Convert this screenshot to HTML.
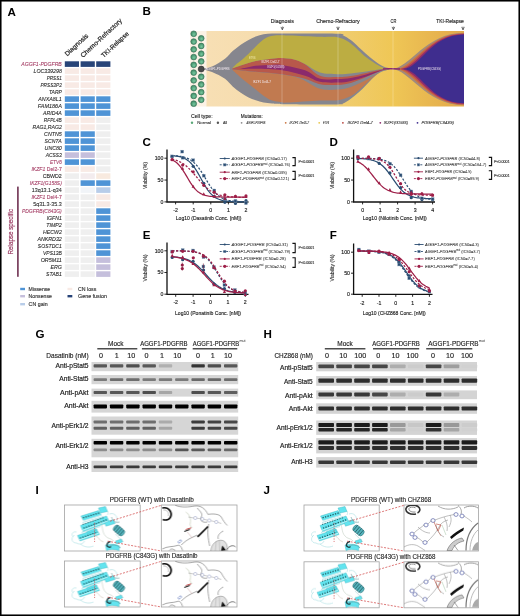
<!DOCTYPE html>
<html><head><meta charset="utf-8"><style>
html,body{margin:0;padding:0;background:#fff;width:520px;height:616px;overflow:hidden;}
svg{display:block;will-change:transform;}
text{font-family:"Liberation Sans",sans-serif;}
</style></head><body>
<svg width="520" height="616" viewBox="0 0 520 616">
<rect x="0" y="0" width="520" height="616" fill="#fff"/>
<text x="7.6" y="15.8" font-size="11.6" fill="#000" font-weight="bold">A</text>
<text x="142.6" y="15.4" font-size="11.6" fill="#000" font-weight="bold">B</text>
<text x="142.6" y="145.9" font-size="11.6" fill="#000" font-weight="bold">C</text>
<text x="329.6" y="145.9" font-size="11.6" fill="#000" font-weight="bold">D</text>
<text x="142.8" y="239.1" font-size="11.6" fill="#000" font-weight="bold">E</text>
<text x="329.8" y="238.8" font-size="11.6" fill="#000" font-weight="bold">F</text>
<text x="35.4" y="337.6" font-size="11.6" fill="#000" font-weight="bold">G</text>
<text x="263.6" y="337.6" font-size="11.6" fill="#000" font-weight="bold">H</text>
<text x="35.4" y="493.9" font-size="11.6" fill="#000" font-weight="bold">I</text>
<text x="263.4" y="493.9" font-size="11.6" fill="#000" font-weight="bold">J</text>
<g>
<rect x="64.8" y="61.3" width="14.2" height="5.6" fill="#284478"/>
<rect x="80.6" y="61.3" width="14.2" height="5.6" fill="#284478"/>
<rect x="96.2" y="61.3" width="14.2" height="5.6" fill="#284478"/>
<text x="21.3" y="66" font-size="5.4" fill="#a63f66" font-style="italic" textLength="40.5" lengthAdjust="spacingAndGlyphs" stroke="#a63f66" stroke-width="0.1">AGGF1-PDGFRB</text>
<rect x="64.8" y="68.3" width="14.2" height="5.6" fill="#f8eae5"/>
<rect x="80.6" y="68.3" width="14.2" height="5.6" fill="#f8eae5"/>
<rect x="96.2" y="68.3" width="14.2" height="5.6" fill="#f8eae5"/>
<text x="33.5" y="73" font-size="5.4" fill="#2a2a2a" font-style="italic" textLength="28.3" lengthAdjust="spacingAndGlyphs" stroke="#2a2a2a" stroke-width="0.1">LOC339298</text>
<rect x="64.8" y="75.3" width="14.2" height="5.6" fill="#f8eae5"/>
<rect x="80.6" y="75.3" width="14.2" height="5.6" fill="#f8eae5"/>
<rect x="96.2" y="75.3" width="14.2" height="5.6" fill="#f8eae5"/>
<text x="46.7" y="80" font-size="5.4" fill="#2a2a2a" font-style="italic" textLength="15.1" lengthAdjust="spacingAndGlyphs" stroke="#2a2a2a" stroke-width="0.1">PRSS1</text>
<rect x="64.8" y="82.3" width="14.2" height="5.6" fill="#f8eae5"/>
<rect x="80.6" y="82.3" width="14.2" height="5.6" fill="#f8eae5"/>
<rect x="96.2" y="82.3" width="14.2" height="5.6" fill="#f8eae5"/>
<text x="40.4" y="87" font-size="5.4" fill="#2a2a2a" font-style="italic" textLength="21.4" lengthAdjust="spacingAndGlyphs" stroke="#2a2a2a" stroke-width="0.1">PRSS3P2</text>
<rect x="64.8" y="89.3" width="14.2" height="5.6" fill="#f8eae5"/>
<rect x="80.6" y="89.3" width="14.2" height="5.6" fill="#f8eae5"/>
<rect x="96.2" y="89.3" width="14.2" height="5.6" fill="#f8eae5"/>
<text x="48.9" y="94" font-size="5.4" fill="#2a2a2a" font-style="italic" textLength="12.9" lengthAdjust="spacingAndGlyphs" stroke="#2a2a2a" stroke-width="0.1">TARP</text>
<rect x="64.8" y="96.3" width="14.2" height="5.6" fill="#4f94d6"/>
<rect x="80.6" y="96.3" width="14.2" height="5.6" fill="#4f94d6"/>
<rect x="96.2" y="96.3" width="14.2" height="5.6" fill="#4f94d6"/>
<text x="38.3" y="101" font-size="5.4" fill="#2a2a2a" font-style="italic" textLength="23.5" lengthAdjust="spacingAndGlyphs" stroke="#2a2a2a" stroke-width="0.1">ANXA8L1</text>
<rect x="64.8" y="103.3" width="14.2" height="5.6" fill="#4f94d6"/>
<rect x="80.6" y="103.3" width="14.2" height="5.6" fill="#4f94d6"/>
<rect x="96.2" y="103.3" width="14.2" height="5.6" fill="#4f94d6"/>
<text x="37.8" y="108" font-size="5.4" fill="#2a2a2a" font-style="italic" textLength="24" lengthAdjust="spacingAndGlyphs" stroke="#2a2a2a" stroke-width="0.1">FAM186A</text>
<rect x="64.8" y="110.3" width="14.2" height="5.6" fill="#4f94d6"/>
<rect x="80.6" y="110.3" width="14.2" height="5.6" fill="#4f94d6"/>
<rect x="96.2" y="110.3" width="14.2" height="5.6" fill="#4f94d6"/>
<text x="43" y="115" font-size="5.4" fill="#2a2a2a" font-style="italic" textLength="18.8" lengthAdjust="spacingAndGlyphs" stroke="#2a2a2a" stroke-width="0.1">ARID4A</text>
<rect x="64.8" y="117.3" width="14.2" height="5.6" fill="#f8eae5"/>
<rect x="80.6" y="117.3" width="14.2" height="5.6" fill="#f8eae5"/>
<rect x="96.2" y="117.3" width="14.2" height="5.6" fill="#efefef"/>
<text x="43.8" y="122" font-size="5.4" fill="#2a2a2a" font-style="italic" textLength="18" lengthAdjust="spacingAndGlyphs" stroke="#2a2a2a" stroke-width="0.1">RFPL4B</text>
<rect x="64.8" y="124.3" width="14.2" height="5.6" fill="#f8eae5"/>
<rect x="80.6" y="124.3" width="14.2" height="5.6" fill="#f8eae5"/>
<rect x="96.2" y="124.3" width="14.2" height="5.6" fill="#efefef"/>
<text x="32.5" y="129" font-size="5.4" fill="#2a2a2a" font-style="italic" textLength="29.3" lengthAdjust="spacingAndGlyphs" stroke="#2a2a2a" stroke-width="0.1">RAG1,RAG2</text>
<rect x="64.8" y="131.3" width="14.2" height="5.6" fill="#4f94d6"/>
<rect x="80.6" y="131.3" width="14.2" height="5.6" fill="#4f94d6"/>
<rect x="96.2" y="131.3" width="14.2" height="5.6" fill="#efefef"/>
<text x="44.1" y="136" font-size="5.4" fill="#2a2a2a" font-style="italic" textLength="17.7" lengthAdjust="spacingAndGlyphs" stroke="#2a2a2a" stroke-width="0.1">CNTN5</text>
<rect x="64.8" y="138.3" width="14.2" height="5.6" fill="#4f94d6"/>
<rect x="80.6" y="138.3" width="14.2" height="5.6" fill="#4f94d6"/>
<rect x="96.2" y="138.3" width="14.2" height="5.6" fill="#efefef"/>
<text x="44.6" y="143" font-size="5.4" fill="#2a2a2a" font-style="italic" textLength="17.2" lengthAdjust="spacingAndGlyphs" stroke="#2a2a2a" stroke-width="0.1">SCN7A</text>
<rect x="64.8" y="145.3" width="14.2" height="5.6" fill="#4f94d6"/>
<rect x="80.6" y="145.3" width="14.2" height="5.6" fill="#4f94d6"/>
<rect x="96.2" y="145.3" width="14.2" height="5.6" fill="#efefef"/>
<text x="44.6" y="150" font-size="5.4" fill="#2a2a2a" font-style="italic" textLength="17.2" lengthAdjust="spacingAndGlyphs" stroke="#2a2a2a" stroke-width="0.1">UNC80</text>
<rect x="64.8" y="152.3" width="14.2" height="5.6" fill="#c5bfdc"/>
<rect x="80.6" y="152.3" width="14.2" height="5.6" fill="#c5bfdc"/>
<rect x="96.2" y="152.3" width="14.2" height="5.6" fill="#efefef"/>
<text x="45.7" y="157" font-size="5.4" fill="#2a2a2a" font-style="italic" textLength="16.1" lengthAdjust="spacingAndGlyphs" stroke="#2a2a2a" stroke-width="0.1">ACSS3</text>
<rect x="64.8" y="159.3" width="14.2" height="5.6" fill="#4f94d6"/>
<rect x="80.6" y="159.3" width="14.2" height="5.6" fill="#4f94d6"/>
<rect x="96.2" y="159.3" width="14.2" height="5.6" fill="#efefef"/>
<text x="49.9" y="164" font-size="5.4" fill="#a63f66" font-style="italic" textLength="11.9" lengthAdjust="spacingAndGlyphs" stroke="#a63f66" stroke-width="0.1">ETV6</text>
<rect x="64.8" y="166.3" width="14.2" height="5.6" fill="#f8eae5"/>
<rect x="80.6" y="166.3" width="14.2" height="5.6" fill="#f8eae5"/>
<rect x="96.2" y="166.3" width="14.2" height="5.6" fill="#efefef"/>
<text x="31.4" y="171" font-size="5.4" fill="#a63f66" stroke="#a63f66" stroke-width="0.1" textLength="30.4" lengthAdjust="spacingAndGlyphs"><tspan font-style="italic">IKZF1</tspan> Del2-7</text>
<rect x="64.8" y="173.3" width="14.2" height="5.6" fill="#efefef"/>
<rect x="80.6" y="173.3" width="14.2" height="5.6" fill="#f3ecee"/>
<rect x="96.2" y="173.3" width="14.2" height="5.6" fill="#f8eadf"/>
<text x="42.7" y="178" font-size="5.4" fill="#2a2a2a" textLength="19.1" lengthAdjust="spacingAndGlyphs" stroke="#2a2a2a" stroke-width="0.1">CBWD2</text>
<rect x="64.8" y="180.3" width="14.2" height="5.6" fill="#efefef"/>
<rect x="80.6" y="180.3" width="14.2" height="5.6" fill="#4f94d6"/>
<rect x="96.2" y="180.3" width="14.2" height="5.6" fill="#4f94d6"/>
<text x="29.8" y="185" font-size="5.4" fill="#a63f66" font-style="italic" textLength="32" lengthAdjust="spacingAndGlyphs" stroke="#a63f66" stroke-width="0.1">IKZF1(G158S)</text>
<rect x="64.8" y="187.3" width="14.2" height="5.6" fill="#efefef"/>
<rect x="80.6" y="187.3" width="14.2" height="5.6" fill="#f1f4f8"/>
<rect x="96.2" y="187.3" width="14.2" height="5.6" fill="#b8cde9"/>
<text x="31.7" y="192" font-size="5.4" fill="#2a2a2a" textLength="30.1" lengthAdjust="spacingAndGlyphs" stroke="#2a2a2a" stroke-width="0.1">13q13.1-q34</text>
<rect x="64.8" y="194.3" width="14.2" height="5.6" fill="#efefef"/>
<rect x="80.6" y="194.3" width="14.2" height="5.6" fill="#efefef"/>
<rect x="96.2" y="194.3" width="14.2" height="5.6" fill="#f8eae5"/>
<text x="31.4" y="199" font-size="5.4" fill="#a63f66" stroke="#a63f66" stroke-width="0.1" textLength="30.4" lengthAdjust="spacingAndGlyphs"><tspan font-style="italic">IKZF1</tspan> Del4-7</text>
<rect x="64.8" y="201.3" width="14.2" height="5.6" fill="#efefef"/>
<rect x="80.6" y="201.3" width="14.2" height="5.6" fill="#efefef"/>
<rect x="96.2" y="201.3" width="14.2" height="5.6" fill="#f8eae5"/>
<text x="33.2" y="206" font-size="5.4" fill="#2a2a2a" textLength="28.6" lengthAdjust="spacingAndGlyphs" stroke="#2a2a2a" stroke-width="0.1">5q31.3-35.3</text>
<rect x="64.8" y="208.3" width="14.2" height="5.6" fill="#efefef"/>
<rect x="80.6" y="208.3" width="14.2" height="5.6" fill="#efefef"/>
<rect x="96.2" y="208.3" width="14.2" height="5.6" fill="#4f94d6"/>
<text x="21.9" y="213" font-size="5.4" fill="#a63f66" font-style="italic" textLength="39.9" lengthAdjust="spacingAndGlyphs" stroke="#a63f66" stroke-width="0.1">PDGFRB(C843G)</text>
<rect x="64.8" y="215.3" width="14.2" height="5.6" fill="#efefef"/>
<rect x="80.6" y="215.3" width="14.2" height="5.6" fill="#efefef"/>
<rect x="96.2" y="215.3" width="14.2" height="5.6" fill="#4f94d6"/>
<text x="46.7" y="220" font-size="5.4" fill="#2a2a2a" font-style="italic" textLength="15.1" lengthAdjust="spacingAndGlyphs" stroke="#2a2a2a" stroke-width="0.1">IGFN1</text>
<rect x="64.8" y="222.3" width="14.2" height="5.6" fill="#efefef"/>
<rect x="80.6" y="222.3" width="14.2" height="5.6" fill="#efefef"/>
<rect x="96.2" y="222.3" width="14.2" height="5.6" fill="#4f94d6"/>
<text x="46.2" y="227" font-size="5.4" fill="#2a2a2a" font-style="italic" textLength="15.6" lengthAdjust="spacingAndGlyphs" stroke="#2a2a2a" stroke-width="0.1">TIMP2</text>
<rect x="64.8" y="229.3" width="14.2" height="5.6" fill="#efefef"/>
<rect x="80.6" y="229.3" width="14.2" height="5.6" fill="#efefef"/>
<rect x="96.2" y="229.3" width="14.2" height="5.6" fill="#4f94d6"/>
<text x="43" y="234" font-size="5.4" fill="#2a2a2a" font-style="italic" textLength="18.8" lengthAdjust="spacingAndGlyphs" stroke="#2a2a2a" stroke-width="0.1">HECW2</text>
<rect x="64.8" y="236.3" width="14.2" height="5.6" fill="#efefef"/>
<rect x="80.6" y="236.3" width="14.2" height="5.6" fill="#efefef"/>
<rect x="96.2" y="236.3" width="14.2" height="5.6" fill="#4f94d6"/>
<text x="37.4" y="241" font-size="5.4" fill="#2a2a2a" font-style="italic" textLength="24.4" lengthAdjust="spacingAndGlyphs" stroke="#2a2a2a" stroke-width="0.1">ANKRD32</text>
<rect x="64.8" y="243.3" width="14.2" height="5.6" fill="#efefef"/>
<rect x="80.6" y="243.3" width="14.2" height="5.6" fill="#efefef"/>
<rect x="96.2" y="243.3" width="14.2" height="5.6" fill="#4f94d6"/>
<text x="37.8" y="248" font-size="5.4" fill="#2a2a2a" font-style="italic" textLength="24" lengthAdjust="spacingAndGlyphs" stroke="#2a2a2a" stroke-width="0.1">SOSTDC1</text>
<rect x="64.8" y="250.3" width="14.2" height="5.6" fill="#efefef"/>
<rect x="80.6" y="250.3" width="14.2" height="5.6" fill="#efefef"/>
<rect x="96.2" y="250.3" width="14.2" height="5.6" fill="#4f94d6"/>
<text x="43" y="255" font-size="5.4" fill="#2a2a2a" font-style="italic" textLength="18.8" lengthAdjust="spacingAndGlyphs" stroke="#2a2a2a" stroke-width="0.1">VPS13B</text>
<rect x="64.8" y="257.3" width="14.2" height="5.6" fill="#efefef"/>
<rect x="80.6" y="257.3" width="14.2" height="5.6" fill="#efefef"/>
<rect x="96.2" y="257.3" width="14.2" height="5.6" fill="#c5bfdc"/>
<text x="40.7" y="262" font-size="5.4" fill="#2a2a2a" font-style="italic" textLength="21.1" lengthAdjust="spacingAndGlyphs" stroke="#2a2a2a" stroke-width="0.1">OR5M11</text>
<rect x="64.8" y="264.3" width="14.2" height="5.6" fill="#efefef"/>
<rect x="80.6" y="264.3" width="14.2" height="5.6" fill="#efefef"/>
<rect x="96.2" y="264.3" width="14.2" height="5.6" fill="#c5bfdc"/>
<text x="50.5" y="269" font-size="5.4" fill="#2a2a2a" font-style="italic" textLength="11.3" lengthAdjust="spacingAndGlyphs" stroke="#2a2a2a" stroke-width="0.1">ERG</text>
<rect x="64.8" y="271.3" width="14.2" height="5.6" fill="#efefef"/>
<rect x="80.6" y="271.3" width="14.2" height="5.6" fill="#efefef"/>
<rect x="96.2" y="271.3" width="14.2" height="5.6" fill="#c5bfdc"/>
<text x="46" y="276" font-size="5.4" fill="#2a2a2a" font-style="italic" textLength="15.8" lengthAdjust="spacingAndGlyphs" stroke="#2a2a2a" stroke-width="0.1">STAB1</text>
</g>
<text x="67.2" y="56.5" font-size="6.6" fill="#222" stroke="#222" stroke-width="0.2" transform="rotate(-43 67.2 56.5)" textLength="29.5" lengthAdjust="spacingAndGlyphs">Diagnosis</text>
<text x="83" y="58" font-size="6.6" fill="#222" stroke="#222" stroke-width="0.2" transform="rotate(-43 83 58)" textLength="54" lengthAdjust="spacingAndGlyphs">Chemo-Refractory</text>
<text x="103.8" y="58" font-size="6.6" fill="#222" stroke="#222" stroke-width="0.2" transform="rotate(-43 103.8 58)" textLength="34.8" lengthAdjust="spacingAndGlyphs">TKI-Relapse</text>
<rect x="17.1" y="186.6" width="1.6" height="90.2" fill="#6f3152"/>
<text x="13" y="231.7" font-size="8" fill="#9a3a62" stroke="#9a3a62" stroke-width="0.2" text-anchor="middle" transform="rotate(-90 13 231.7)" textLength="45.6" lengthAdjust="spacingAndGlyphs">Relapse specific</text>
<rect x="20.2" y="287.8" width="4.8" height="2.4" fill="#4f94d6"/>
<text x="28.6" y="290.9" font-size="5.6" fill="#333" textLength="21.6" lengthAdjust="spacingAndGlyphs" stroke="#333" stroke-width="0.15">Missense</text>
<rect x="20.2" y="295" width="4.8" height="2.4" fill="#c5bfdc"/>
<text x="28.6" y="298.1" font-size="5.6" fill="#333" textLength="23.3" lengthAdjust="spacingAndGlyphs" stroke="#333" stroke-width="0.15">Nonsense</text>
<rect x="20.2" y="303" width="4.8" height="2.4" fill="#b8cde9"/>
<text x="28.6" y="306.1" font-size="5.6" fill="#333" textLength="19.1" lengthAdjust="spacingAndGlyphs" stroke="#333" stroke-width="0.15">CN gain</text>
<rect x="67.5" y="287.8" width="4.8" height="2.4" fill="#f8eae5"/>
<text x="78.1" y="290.9" font-size="5.6" fill="#333" textLength="18.2" lengthAdjust="spacingAndGlyphs" stroke="#333" stroke-width="0.15">CN loss</text>
<rect x="67.5" y="295" width="4.8" height="2.4" fill="#284478"/>
<text x="78.1" y="298.1" font-size="5.6" fill="#333" textLength="28.8" lengthAdjust="spacingAndGlyphs" stroke="#333" stroke-width="0.15">Gene fusion</text>
<defs><linearGradient id="fishbg" x1="0" x2="1" y1="0" y2="0"><stop offset="0" stop-color="#f7dfb4"/><stop offset="0.25" stop-color="#f6dcac"/><stop offset="0.55" stop-color="#f0cc6c"/><stop offset="0.72" stop-color="#efc756"/><stop offset="1" stop-color="#e2a84a"/></linearGradient><radialGradient id="cellg" cx="0.55" cy="0.6" r="0.6"><stop offset="0" stop-color="#77c79e"/><stop offset="1" stop-color="#3d8862"/></radialGradient></defs>
<rect x="190" y="31" width="17" height="75.5" fill="#fcf2e6"/><rect x="206.5" y="31" width="257.5" height="75.5" fill="url(#fishbg)"/>
<path d="M201,69 C202.83,68.58 208,68.2 212,66.5 C216,64.8 221.55,61.37 225,58.8 C228.45,56.23 230.13,53.42 232.7,51.1 C235.27,48.78 237.83,46.7 240.4,44.9 C242.97,43.1 245.53,41.7 248.1,40.3 C250.67,38.9 253.23,37.52 255.8,36.5 C258.37,35.48 260.8,34.72 263.5,34.2 C266.2,33.68 268.92,33.5 272,33.4 C275.08,33.3 271,33.53 282,33.6 C293,33.67 327.83,33.52 338,33.8 C348.17,34.08 340.87,34.25 343,35.3 C345.13,36.35 348.22,38.15 350.8,40.1 C353.38,42.05 355.93,44.68 358.5,47 C361.07,49.32 363.65,51.8 366.2,54 C368.75,56.2 371.25,58.27 373.8,60.2 C376.35,62.13 379.43,64.37 381.5,65.6 C383.57,66.83 384.62,67.15 386.2,67.6 C387.78,68.05 389.53,68.13 391,68.3 C392.47,68.47 394.33,68.55 395,68.6 L395,69 C394.03,69.07 391.45,68.93 389.2,69.4 C386.95,69.87 384.07,70.5 381.5,71.8 C378.93,73.1 376.35,75.02 373.8,77.2 C371.25,79.38 368.75,82.33 366.2,84.9 C363.65,87.47 361.07,90.28 358.5,92.6 C355.93,94.92 353.38,96.97 350.8,98.8 C348.22,100.63 345.13,102.67 343,103.6 C340.87,104.53 348.17,104.3 338,104.4 C327.83,104.5 293,104.33 282,104.2 C271,104.07 275.08,103.87 272,103.6 C268.92,103.33 266.2,103.15 263.5,102.6 C260.8,102.05 258.37,101.2 255.8,100.3 C253.23,99.4 250.67,98.48 248.1,97.2 C245.53,95.92 242.97,94.38 240.4,92.6 C237.83,90.82 235.27,88.8 232.7,86.5 C230.13,84.2 228.45,81.22 225,78.8 C221.55,76.38 216,73.63 212,72 C208,70.37 202.83,69.5 201,69 Z" fill="#86868e"/>
<path d="M232,69.4 C235.97,69.83 247.47,71.17 255.8,72 C264.13,72.83 274.63,73.32 282,74.4 C289.37,75.48 293.67,76.1 300,78.5 C306.33,80.9 313.67,86.97 320,88.8 C326.33,90.63 332.87,89.8 338,89.5 C343.13,89.2 346.1,88.58 350.8,87 C355.5,85.42 361.08,82.58 366.2,80 C371.32,77.42 377.53,73.3 381.5,71.5 C385.47,69.7 388.58,69.58 390,69.2 L390,69.3 C388.58,69.67 384.2,70.3 381.5,71.5 C378.8,72.7 376.35,74.5 373.8,76.5 C371.25,78.5 368.75,81.17 366.2,83.5 C363.65,85.83 361.07,88.42 358.5,90.5 C355.93,92.58 354.22,94.37 350.8,96 C347.38,97.63 343.13,99.55 338,100.3 C332.87,101.05 328.58,100.12 320,100.5 C311.42,100.88 293.37,102.38 286.5,102.6 C279.63,102.82 281.35,102.18 278.8,101.8 C276.25,101.42 273.75,101.32 271.2,100.3 C268.65,99.28 266.07,97.5 263.5,95.7 C260.93,93.9 258.37,91.55 255.8,89.5 C253.23,87.45 250.67,85.45 248.1,83.4 C245.53,81.35 243.08,79.5 240.4,77.2 C237.72,74.9 233.4,70.87 232,69.6 Z" fill="#c17a50"/>
<path d="M232,68.8 C233.4,68.28 236.43,66.98 240.4,65.7 C244.37,64.42 250.67,62.25 255.8,61.1 C260.93,59.95 266.83,59.3 271.2,58.8 C275.57,58.3 278.2,57.97 282,58.1 C285.8,58.23 290.17,58.58 294,59.6 C297.83,60.62 300.67,61.52 305,64.2 C309.33,66.88 314.5,73.57 320,75.7 C325.5,77.83 332.87,76.95 338,77 C343.13,77.05 346.1,76.67 350.8,76 C355.5,75.33 361.08,74.08 366.2,73 C371.32,71.92 377.53,70.18 381.5,69.5 C385.47,68.82 388.58,69 390,68.9 L390,69 C388.58,69.25 385.47,69.17 381.5,70.5 C377.53,71.83 371.32,74.92 366.2,77 C361.08,79.08 355.5,81.68 350.8,83 C346.1,84.32 343.13,84.7 338,84.9 C332.87,85.1 325.5,85.22 320,84.2 C314.5,83.18 311.33,80.47 305,78.8 C298.67,77.13 290.2,75.37 282,74.2 C273.8,73.03 264.13,72.63 255.8,71.8 C247.47,70.97 235.97,69.63 232,69.2 Z" fill="#b8584b"/>
<path d="M240,68.9 C242.63,68.37 250.63,66.37 255.8,65.7 C260.97,65.03 266.63,65.03 271,64.9 C275.37,64.77 276.33,64 282,64.9 C287.67,65.8 298.67,67.98 305,70.3 C311.33,72.62 314.5,77.35 320,78.8 C325.5,80.25 332.87,79.13 338,79 C343.13,78.87 346.1,78.75 350.8,78 C355.5,77.25 361.08,75.83 366.2,74.5 C371.32,73.17 377.53,70.92 381.5,70 C385.47,69.08 388.58,69.17 390,69 L390,69.1 C388.58,69.33 385.47,69.27 381.5,70.5 C377.53,71.73 371.32,74.75 366.2,76.5 C361.08,78.25 355.5,79.98 350.8,81 C346.1,82.02 343.13,82.47 338,82.6 C332.87,82.73 325.5,82.95 320,81.8 C314.5,80.65 311.33,77.62 305,75.7 C298.67,73.78 290.2,71.45 282,70.3 C273.8,69.15 262.8,69 255.8,68.8 C248.8,68.6 242.63,69.05 240,69.1 Z" fill="#8b2a6c"/>
<path d="M232,68.4 C232.67,67.75 234.6,65.72 236,64.5 C237.4,63.28 238.38,62.82 240.4,61.1 C242.42,59.38 245.53,56.63 248.1,54.2 C250.67,51.77 253.23,48.95 255.8,46.5 C258.37,44.05 260.93,41.25 263.5,39.5 C266.07,37.75 268.65,36.72 271.2,36 C273.75,35.28 275.67,35.28 278.8,35.2 C281.93,35.12 283.13,35.23 290,35.5 C296.87,35.77 311.92,36.48 320,36.8 C328.08,37.12 333.37,36.3 338.5,37.4 C343.63,38.5 346.18,40.1 350.8,43.4 C355.42,46.7 361.08,53.27 366.2,57.2 C371.32,61.13 377.87,65.12 381.5,67 C385.13,68.88 386.92,68.25 388,68.5 L388,68.6 C386.92,68.67 385.13,68.52 381.5,69 C377.87,69.48 371.32,70.75 366.2,71.5 C361.08,72.25 355.5,73.05 350.8,73.5 C346.1,73.95 343.13,74.35 338,74.2 C332.87,74.05 325.5,74.3 320,72.6 C314.5,70.9 309.33,66.2 305,64 C300.67,61.8 297.83,60.42 294,59.4 C290.17,58.38 285.8,58.02 282,57.9 C278.2,57.78 275.57,58.18 271.2,58.7 C266.83,59.22 260.93,59.85 255.8,61 C250.67,62.15 244.37,64.33 240.4,65.6 C236.43,66.87 233.4,68.1 232,68.6 Z" fill="#bcad42"/>
<path d="M391,69 C410,69 425,32.8 464,32.8 L464,105.2 C425,105.2 410,69 391,69 Z" fill="#a08a7e"/>
<path d="M395,69 C413,69 427,33.2 464,33.2 L464,104.8 C427,104.8 413,69 395,69 Z" fill="#c9743f"/>
<path d="M398,69 C415,69 428,33.6 464,33.6 L464,104.3 C428,104.3 415,69 398,69 Z" fill="#c0504c"/>
<path d="M400.5,69 C417,69 429,34 464,34 L464,103.8 C429,103.8 417,69 400.5,69 Z" fill="#8e2c6c"/>
<path d="M403,69 C420,69 430,34.5 464,34.5 L464,103.2 C430,103.2 420,69 403,69 Z" fill="#3f2d8e"/>
<path d="M383,68.8 C388,68.6 392,68.6 400,69" stroke="#8b2a6c" stroke-width="1.3" fill="none"/>
<rect x="281.65" y="31" width="0.7" height="75.5" fill="#fff" opacity="0.35"/>
<rect x="337.65" y="31" width="0.7" height="75.5" fill="#fff" opacity="0.35"/>
<rect x="392.65" y="31" width="0.7" height="75.5" fill="#fff" opacity="0.35"/>
<circle cx="193.7" cy="33.8" r="2.9" fill="url(#cellg)" stroke="#336a50" stroke-width="0.6"/>
<circle cx="193.7" cy="41.56" r="2.9" fill="url(#cellg)" stroke="#336a50" stroke-width="0.6"/>
<circle cx="193.7" cy="49.32" r="2.9" fill="url(#cellg)" stroke="#336a50" stroke-width="0.6"/>
<circle cx="193.7" cy="57.08" r="2.9" fill="url(#cellg)" stroke="#336a50" stroke-width="0.6"/>
<circle cx="193.7" cy="64.84" r="2.9" fill="url(#cellg)" stroke="#336a50" stroke-width="0.6"/>
<circle cx="193.7" cy="72.6" r="2.9" fill="url(#cellg)" stroke="#336a50" stroke-width="0.6"/>
<circle cx="193.7" cy="80.36" r="2.9" fill="url(#cellg)" stroke="#336a50" stroke-width="0.6"/>
<circle cx="193.7" cy="88.12" r="2.9" fill="url(#cellg)" stroke="#336a50" stroke-width="0.6"/>
<circle cx="193.7" cy="95.88" r="2.9" fill="url(#cellg)" stroke="#336a50" stroke-width="0.6"/>
<circle cx="193.7" cy="103.64" r="2.9" fill="url(#cellg)" stroke="#336a50" stroke-width="0.6"/>
<circle cx="201.2" cy="38.3" r="2.9" fill="url(#cellg)" stroke="#336a50" stroke-width="0.6"/>
<circle cx="201.2" cy="45.99" r="2.9" fill="url(#cellg)" stroke="#336a50" stroke-width="0.6"/>
<circle cx="201.2" cy="53.68" r="2.9" fill="url(#cellg)" stroke="#336a50" stroke-width="0.6"/>
<circle cx="201.2" cy="61.37" r="2.9" fill="url(#cellg)" stroke="#336a50" stroke-width="0.6"/>
<circle cx="201.2" cy="69.06" r="3" fill="#4a4a4a" stroke="#2e2e2e" stroke-width="0.6"/>
<circle cx="201.2" cy="76.75" r="2.9" fill="url(#cellg)" stroke="#336a50" stroke-width="0.6"/>
<circle cx="201.2" cy="84.44" r="2.9" fill="url(#cellg)" stroke="#336a50" stroke-width="0.6"/>
<circle cx="201.2" cy="92.13" r="2.9" fill="url(#cellg)" stroke="#336a50" stroke-width="0.6"/>
<circle cx="201.2" cy="99.82" r="2.9" fill="url(#cellg)" stroke="#336a50" stroke-width="0.6"/>
<text x="205.5" y="70.3" font-size="2.6" fill="#f3e9f0" textLength="24" lengthAdjust="spacingAndGlyphs">AGGF1-PDGFRB</text>
<text x="249" y="58.8" font-size="2.6" fill="#f4ecb0" textLength="6.5" lengthAdjust="spacingAndGlyphs">ETV6</text>
<text x="261.5" y="63.4" font-size="2.6" fill="#f3e9f0" textLength="18" lengthAdjust="spacingAndGlyphs">IKZF1 Del2-7</text>
<text x="267.5" y="68" font-size="2.6" fill="#f3e9f0" textLength="17" lengthAdjust="spacingAndGlyphs">IKZF1(G158S)</text>
<text x="253" y="83.4" font-size="2.6" fill="#f3e9f0" textLength="18" lengthAdjust="spacingAndGlyphs">IKZF1 Del4-7</text>
<text x="418" y="70" font-size="2.6" fill="#f3e9f0" textLength="23" lengthAdjust="spacingAndGlyphs">PDGFRB(C843G)</text>
<text x="282.3" y="23.3" font-size="6" fill="#222" stroke="#222" stroke-width="0.15" text-anchor="middle" textLength="23" lengthAdjust="spacingAndGlyphs">Diagnosis</text>
<text x="338" y="23.3" font-size="6" fill="#222" stroke="#222" stroke-width="0.15" text-anchor="middle" textLength="43.5" lengthAdjust="spacingAndGlyphs">Chemo-Refractory</text>
<text x="393.4" y="23.3" font-size="6" fill="#222" stroke="#222" stroke-width="0.15" text-anchor="middle" textLength="5.8" lengthAdjust="spacingAndGlyphs">CR</text>
<text x="450" y="23.3" font-size="6" fill="#222" stroke="#222" stroke-width="0.15" text-anchor="middle" textLength="27.5" lengthAdjust="spacingAndGlyphs">TKI-Relapse</text>
<path d="M281,26.9 L282.3,29.8 L283.6,26.9" fill="none" stroke="#333" stroke-width="0.7"/>
<rect x="282" y="26.5" width="0.6" height="3.5" fill="#555"/>
<path d="M336.7,26.9 L338,29.8 L339.3,26.9" fill="none" stroke="#333" stroke-width="0.7"/>
<rect x="337.7" y="26.5" width="0.6" height="3.5" fill="#555"/>
<path d="M392.1,26.9 L393.4,29.8 L394.7,26.9" fill="none" stroke="#333" stroke-width="0.7"/>
<rect x="393.1" y="26.5" width="0.6" height="3.5" fill="#555"/>
<path d="M461.7,26.9 L463,29.8 L464.3,26.9" fill="none" stroke="#333" stroke-width="0.7"/>
<rect x="462.7" y="26.5" width="0.6" height="3.5" fill="#555"/>
<text x="190.9" y="118.2" font-size="4.8" fill="#222" stroke="#222" stroke-width="0.12" textLength="21.8" lengthAdjust="spacingAndGlyphs">Cell type:</text>
<text x="240.8" y="118.2" font-size="4.8" fill="#222" stroke="#222" stroke-width="0.12" textLength="22" lengthAdjust="spacingAndGlyphs">Mutations:</text>
<circle cx="192" cy="122.8" r="1.2" fill="#5aa878"/>
<text x="197.2" y="124.3" font-size="4" fill="#333" stroke="#333" stroke-width="0.1" textLength="14" lengthAdjust="spacingAndGlyphs">Normal</text>
<circle cx="217.9" cy="122.8" r="1.2" fill="#555"/>
<text x="223" y="124.3" font-size="4" fill="#333" stroke="#333" stroke-width="0.1" textLength="4.2" lengthAdjust="spacingAndGlyphs">All</text>
<circle cx="241.6" cy="122.8" r="0.9" fill="#8a898c"/>
<text x="246.5" y="124.2" font-size="4" fill="#333" stroke="#333" stroke-width="0.1" font-style="italic" textLength="18.9" lengthAdjust="spacingAndGlyphs">AGGF1-PDGFRB</text>
<circle cx="285.7" cy="122.8" r="0.9" fill="#c9743f"/>
<text x="289.6" y="124.2" font-size="4" fill="#333" stroke="#333" stroke-width="0.1" font-style="italic" textLength="19.6" lengthAdjust="spacingAndGlyphs">IKZF1 Del2-7</text>
<circle cx="319.2" cy="122.8" r="0.9" fill="#e8c64a"/>
<text x="323" y="124.2" font-size="4" fill="#333" stroke="#333" stroke-width="0.1" font-style="italic" textLength="6" lengthAdjust="spacingAndGlyphs">ETV6</text>
<circle cx="342.9" cy="122.8" r="0.9" fill="#b8423c"/>
<text x="347.5" y="124.2" font-size="4" fill="#333" stroke="#333" stroke-width="0.1" font-style="italic" textLength="25.5" lengthAdjust="spacingAndGlyphs">IKZF1 Del4-7</text>
<circle cx="380.3" cy="122.8" r="0.9" fill="#8b2a6c"/>
<text x="383.8" y="124.2" font-size="4" fill="#333" stroke="#333" stroke-width="0.1" font-style="italic" textLength="24.2" lengthAdjust="spacingAndGlyphs">IKZF1(G158S)</text>
<circle cx="417.5" cy="122.8" r="0.9" fill="#3f2d8e"/>
<text x="421.5" y="124.2" font-size="4" fill="#333" stroke="#333" stroke-width="0.1" font-style="italic" textLength="32.4" lengthAdjust="spacingAndGlyphs">PDGFRB(C843G)</text>
<path d="M167,149.4 L167,202 L248.5,202" fill="none" stroke="#111" stroke-width="1.3"/>
<path d="M164.4,158.2 L167,158.2" stroke="#111" stroke-width="0.9"/>
<text x="163.4" y="160" font-size="5.2" fill="#222" stroke="#222" stroke-width="0.15" text-anchor="end">100</text>
<path d="M164.4,180.05 L167,180.05" stroke="#111" stroke-width="0.9"/>
<text x="163.4" y="181.85" font-size="5.2" fill="#222" stroke="#222" stroke-width="0.15" text-anchor="end">50</text>
<path d="M164.4,201.9 L167,201.9" stroke="#111" stroke-width="0.9"/>
<text x="163.4" y="203.7" font-size="5.2" fill="#222" stroke="#222" stroke-width="0.15" text-anchor="end">0</text>
<path d="M175.6,202 L175.6,204.4" stroke="#111" stroke-width="0.9"/>
<text x="175.6" y="212" font-size="5.2" fill="#222" stroke="#222" stroke-width="0.15" text-anchor="middle">-2</text>
<path d="M193.2,202 L193.2,204.4" stroke="#111" stroke-width="0.9"/>
<text x="193.2" y="212" font-size="5.2" fill="#222" stroke="#222" stroke-width="0.15" text-anchor="middle">-1</text>
<path d="M210.8,202 L210.8,204.4" stroke="#111" stroke-width="0.9"/>
<text x="210.8" y="212" font-size="5.2" fill="#222" stroke="#222" stroke-width="0.15" text-anchor="middle">0</text>
<path d="M228.4,202 L228.4,204.4" stroke="#111" stroke-width="0.9"/>
<text x="228.4" y="212" font-size="5.2" fill="#222" stroke="#222" stroke-width="0.15" text-anchor="middle">1</text>
<path d="M246,202 L246,204.4" stroke="#111" stroke-width="0.9"/>
<text x="246" y="212" font-size="5.2" fill="#222" stroke="#222" stroke-width="0.15" text-anchor="middle">2</text>
<text x="208.6" y="219.7" font-size="5.8" fill="#222" stroke="#222" stroke-width="0.15" text-anchor="middle" textLength="65.6" lengthAdjust="spacingAndGlyphs">Log10 (Dasatinib Conc. [nM])</text>
<text x="147.3" y="175.5" font-size="5.5" fill="#333" stroke="#333" stroke-width="0.12" text-anchor="middle" transform="rotate(-90 147.3 175.5)" textLength="27" lengthAdjust="spacingAndGlyphs">Viability (%)</text>
<path d="M172.08,155.64 L173.31,155.74 L174.54,155.87 L175.78,156.02 L177.01,156.21 L178.24,156.43 L179.47,156.69 L180.7,157.01 L181.94,157.39 L183.17,157.84 L184.4,158.38 L185.63,159.02 L186.86,159.76 L188.1,160.63 L189.33,161.64 L190.56,162.8 L191.79,164.12 L193.02,165.61 L194.26,167.26 L195.49,169.08 L196.72,171.04 L197.95,173.13 L199.18,175.31 L200.42,177.55 L201.65,179.81 L202.88,182.05 L204.11,184.22 L205.34,186.29 L206.58,188.23 L207.81,190.03 L209.04,191.66 L210.27,193.12 L211.5,194.42 L212.74,195.55 L213.97,196.54 L215.2,197.39 L216.43,198.12 L217.66,198.74 L218.9,199.27 L220.13,199.71 L221.36,200.08 L222.59,200.39 L223.82,200.65 L225.06,200.86 L226.29,201.04 L227.52,201.19 L228.75,201.31 L229.98,201.42 L231.22,201.5 L232.45,201.57 L233.68,201.63 L234.91,201.68 L236.14,201.71 L237.38,201.75 L238.61,201.77 L239.84,201.8 L241.07,201.81 L242.3,201.83 L243.54,201.84 L244.77,201.85 L246,201.86" fill="none" stroke="#2b4d72" stroke-width="1.25"/>
<circle cx="172.08" cy="156.56" r="1.6" fill="#2b4d72"/>
<circle cx="182.64" cy="157.49" r="1.6" fill="#2b4d72"/>
<circle cx="193.2" cy="166.29" r="1.6" fill="#2b4d72"/>
<circle cx="203.76" cy="183.24" r="1.6" fill="#2b4d72"/>
<circle cx="214.32" cy="196.36" r="1.6" fill="#2b4d72"/>
<circle cx="224.88" cy="202.35" r="1.6" fill="#2b4d72"/>
<circle cx="235.44" cy="203.39" r="1.6" fill="#2b4d72"/>
<circle cx="246" cy="200.68" r="1.6" fill="#2b4d72"/>
<path d="M172.08,155.52 L173.31,155.59 L174.54,155.68 L175.78,155.78 L177.01,155.9 L178.24,156.05 L179.47,156.22 L180.7,156.42 L181.94,156.66 L183.17,156.94 L184.4,157.28 L185.63,157.67 L186.86,158.13 L188.1,158.66 L189.33,159.29 L190.56,160.01 L191.79,160.84 L193.02,161.78 L194.26,162.86 L195.49,164.07 L196.72,165.42 L197.95,166.91 L199.18,168.54 L200.42,170.3 L201.65,172.17 L202.88,174.13 L204.11,176.16 L205.34,178.22 L206.58,180.29 L207.81,182.34 L209.04,184.32 L210.27,186.22 L211.5,188.01 L212.74,189.68 L213.97,191.21 L215.2,192.6 L216.43,193.85 L217.66,194.96 L218.9,195.95 L220.13,196.81 L221.36,197.56 L222.59,198.21 L223.82,198.77 L225.06,199.25 L226.29,199.66 L227.52,200.01 L228.75,200.3 L229.98,200.56 L231.22,200.77 L232.45,200.95 L233.68,201.1 L234.91,201.23 L236.14,201.34 L237.38,201.43 L238.61,201.5 L239.84,201.57 L241.07,201.62 L242.3,201.67 L243.54,201.7 L244.77,201.74 L246,201.76" fill="none" stroke="#2b4d72" stroke-width="1.25" stroke-dasharray="2.2,1.6"/>
<rect x="170.64" y="154.92" width="2.88" height="2.88" fill="#2b4d72" stroke="#8aa0b8" stroke-width="0.4"/>
<rect x="181.2" y="156.3" width="2.88" height="2.88" fill="#2b4d72" stroke="#8aa0b8" stroke-width="0.4"/>
<rect x="191.76" y="158.76" width="2.88" height="2.88" fill="#2b4d72" stroke="#8aa0b8" stroke-width="0.4"/>
<rect x="202.32" y="174.24" width="2.88" height="2.88" fill="#2b4d72" stroke="#8aa0b8" stroke-width="0.4"/>
<rect x="212.88" y="189" width="2.88" height="2.88" fill="#2b4d72" stroke="#8aa0b8" stroke-width="0.4"/>
<rect x="223.44" y="197.83" width="2.88" height="2.88" fill="#2b4d72" stroke="#8aa0b8" stroke-width="0.4"/>
<rect x="234" y="199.35" width="2.88" height="2.88" fill="#2b4d72" stroke="#8aa0b8" stroke-width="0.4"/>
<rect x="244.56" y="201.54" width="2.88" height="2.88" fill="#2b4d72" stroke="#8aa0b8" stroke-width="0.4"/>
<path d="M172.08,159.82 L173.31,160.44 L174.54,161.18 L175.78,162.05 L177.01,163.07 L178.24,164.24 L179.47,165.59 L180.7,167.1 L181.94,168.78 L183.17,170.6 L184.4,172.55 L185.63,174.6 L186.86,176.69 L188.1,178.79 L189.33,180.85 L190.56,182.83 L191.79,184.7 L193.02,186.42 L194.26,187.98 L195.49,189.37 L196.72,190.6 L197.95,191.66 L199.18,192.57 L200.42,193.35 L201.65,194 L202.88,194.55 L204.11,195 L205.34,195.38 L206.58,195.69 L207.81,195.95 L209.04,196.16 L210.27,196.33 L211.5,196.48 L212.74,196.59 L213.97,196.68 L215.2,196.76 L216.43,196.82 L217.66,196.87 L218.9,196.92 L220.13,196.95 L221.36,196.98 L222.59,197 L223.82,197.02 L225.06,197.03 L226.29,197.04 L227.52,197.05 L228.75,197.06 L229.98,197.07 L231.22,197.07 L232.45,197.08 L233.68,197.08 L234.91,197.08 L236.14,197.08 L237.38,197.09 L238.61,197.09 L239.84,197.09 L241.07,197.09 L242.3,197.09 L243.54,197.09 L244.77,197.09 L246,197.09" fill="none" stroke="#9e1f48" stroke-width="1.25"/>
<path d="M172.08,157.58 L173.68,160.62 L170.48,160.62 Z" fill="#9e1f48"/>
<path d="M182.64,166.76 L184.24,169.8 L181.04,169.8 Z" fill="#9e1f48"/>
<path d="M193.2,184.81 L194.8,187.85 L191.6,187.85 Z" fill="#9e1f48"/>
<path d="M203.76,192.28 L205.36,195.32 L202.16,195.32 Z" fill="#9e1f48"/>
<path d="M214.32,194.35 L215.92,197.39 L212.72,197.39 Z" fill="#9e1f48"/>
<path d="M224.88,196.79 L226.48,199.83 L223.28,199.83 Z" fill="#9e1f48"/>
<path d="M235.44,194.42 L237.04,197.46 L233.84,197.46 Z" fill="#9e1f48"/>
<path d="M246,195.01 L247.6,198.05 L244.4,198.05 Z" fill="#9e1f48"/>
<path d="M172.08,159.01 L173.31,159.32 L174.54,159.67 L175.78,160.07 L177.01,160.52 L178.24,161.03 L179.47,161.6 L180.7,162.24 L181.94,162.95 L183.17,163.74 L184.4,164.61 L185.63,165.55 L186.86,166.58 L188.1,167.7 L189.33,168.89 L190.56,170.15 L191.79,171.47 L193.02,172.86 L194.26,174.28 L195.49,175.74 L196.72,177.21 L197.95,178.68 L199.18,180.14 L200.42,181.56 L201.65,182.94 L202.88,184.27 L204.11,185.53 L205.34,186.72 L206.58,187.83 L207.81,188.86 L209.04,189.81 L210.27,190.68 L211.5,191.47 L212.74,192.18 L213.97,192.82 L215.2,193.39 L216.43,193.9 L217.66,194.35 L218.9,194.75 L220.13,195.1 L221.36,195.41 L222.59,195.69 L223.82,195.93 L225.06,196.13 L226.29,196.32 L227.52,196.48 L228.75,196.62 L229.98,196.74 L231.22,196.84 L232.45,196.93 L233.68,197.01 L234.91,197.08 L236.14,197.14 L237.38,197.19 L238.61,197.24 L239.84,197.28 L241.07,197.31 L242.3,197.34 L243.54,197.37 L244.77,197.39 L246,197.41" fill="none" stroke="#9e1f48" stroke-width="1.25" stroke-dasharray="2.2,1.6"/>
<circle cx="172.08" cy="159.7" r="1.6" fill="#9e1f48"/>
<circle cx="182.64" cy="165.03" r="1.6" fill="#9e1f48"/>
<circle cx="193.2" cy="171.78" r="1.6" fill="#9e1f48"/>
<circle cx="203.76" cy="185.28" r="1.6" fill="#9e1f48"/>
<circle cx="214.32" cy="192.22" r="1.6" fill="#9e1f48"/>
<circle cx="224.88" cy="194.78" r="1.6" fill="#9e1f48"/>
<circle cx="235.44" cy="196.36" r="1.6" fill="#9e1f48"/>
<circle cx="246" cy="195.94" r="1.6" fill="#9e1f48"/>
<path d="M219.7,158.5 L229.8,158.5" stroke="#2b4d72" stroke-width="0.9"/>
<circle cx="224.75" cy="158.5" r="1.1" fill="#2b4d72"/>
<text x="231.5" y="160" font-size="4.4" fill="#333" stroke="#333" stroke-width="0.05" textLength="55.4" lengthAdjust="spacingAndGlyphs"><tspan font-style="italic">AGGF1-PDGFRB</tspan> (IC50=0.17)</text>
<path d="M219.7,164.8 L229.8,164.8" stroke="#2b4d72" stroke-width="0.9" stroke-dasharray="2,1.2"/>
<rect x="223.49" y="163.54" width="2.52" height="2.52" fill="#2b4d72" stroke="#8aa0b8" stroke-width="0.4"/>
<text x="231.5" y="166.3" font-size="4.4" fill="#333" stroke="#333" stroke-width="0.05" textLength="58.6" lengthAdjust="spacingAndGlyphs"><tspan font-style="italic">AGGF1-PDGFRB</tspan><tspan font-size="2.6" dy="-1.6">mut</tspan><tspan dy="1.6"> </tspan>(IC50=0.76)</text>
<path d="M219.7,172.2 L229.8,172.2" stroke="#9e1f48" stroke-width="0.9"/>
<circle cx="224.75" cy="172.2" r="1.1" fill="#9e1f48"/>
<text x="231.5" y="173.7" font-size="4.4" fill="#333" stroke="#333" stroke-width="0.05" textLength="55.4" lengthAdjust="spacingAndGlyphs"><tspan font-style="italic">EBF1-PDGFRB</tspan> (IC50=0.035)</text>
<path d="M219.7,178.6 L229.8,178.6" stroke="#9e1f48" stroke-width="0.9" stroke-dasharray="2,1.2"/>
<circle cx="224.75" cy="178.6" r="1.6" fill="#9e1f48"/>
<text x="231.5" y="180.1" font-size="4.4" fill="#333" stroke="#333" stroke-width="0.05" textLength="57.5" lengthAdjust="spacingAndGlyphs"><tspan font-style="italic">EBF1-PDGFRB</tspan><tspan font-size="2.6" dy="-1.6">mut</tspan><tspan dy="1.6"> </tspan>(IC50=0.121)</text>
<path d="M292.4,157.6 L295.2,157.6 L295.2,165.6 L292.4,165.6" fill="none" stroke="#111" stroke-width="1.1"/>
<text x="298.6" y="163" font-size="4.3" fill="#222" stroke="#222" stroke-width="0.12" textLength="15.8" lengthAdjust="spacingAndGlyphs">P&lt;0.0001</text>
<path d="M292.4,171.4 L295.2,171.4 L295.2,179.4 L292.4,179.4" fill="none" stroke="#111" stroke-width="1.1"/>
<text x="298.6" y="176.8" font-size="4.3" fill="#222" stroke="#222" stroke-width="0.12" textLength="15.8" lengthAdjust="spacingAndGlyphs">P&lt;0.0001</text>
<path d="M353.6,149.4 L353.6,202 L435,202" fill="none" stroke="#111" stroke-width="1.3"/>
<path d="M351,158.2 L353.6,158.2" stroke="#111" stroke-width="0.9"/>
<text x="350" y="160" font-size="5.2" fill="#222" stroke="#222" stroke-width="0.15" text-anchor="end">100</text>
<path d="M351,180.05 L353.6,180.05" stroke="#111" stroke-width="0.9"/>
<text x="350" y="181.85" font-size="5.2" fill="#222" stroke="#222" stroke-width="0.15" text-anchor="end">50</text>
<path d="M351,201.9 L353.6,201.9" stroke="#111" stroke-width="0.9"/>
<text x="350" y="203.7" font-size="5.2" fill="#222" stroke="#222" stroke-width="0.15" text-anchor="end">0</text>
<path d="M362.6,202 L362.6,204.4" stroke="#111" stroke-width="0.9"/>
<text x="362.6" y="212" font-size="5.2" fill="#222" stroke="#222" stroke-width="0.15" text-anchor="middle">0</text>
<path d="M380.1,202 L380.1,204.4" stroke="#111" stroke-width="0.9"/>
<text x="380.1" y="212" font-size="5.2" fill="#222" stroke="#222" stroke-width="0.15" text-anchor="middle">1</text>
<path d="M397.6,202 L397.6,204.4" stroke="#111" stroke-width="0.9"/>
<text x="397.6" y="212" font-size="5.2" fill="#222" stroke="#222" stroke-width="0.15" text-anchor="middle">2</text>
<path d="M415.1,202 L415.1,204.4" stroke="#111" stroke-width="0.9"/>
<text x="415.1" y="212" font-size="5.2" fill="#222" stroke="#222" stroke-width="0.15" text-anchor="middle">3</text>
<path d="M432.6,202 L432.6,204.4" stroke="#111" stroke-width="0.9"/>
<text x="432.6" y="212" font-size="5.2" fill="#222" stroke="#222" stroke-width="0.15" text-anchor="middle">4</text>
<text x="394.7" y="219.7" font-size="5.8" fill="#222" stroke="#222" stroke-width="0.15" text-anchor="middle" textLength="63.9" lengthAdjust="spacingAndGlyphs">Log10 (Nilotinib Conc. [nM])</text>
<text x="333.8" y="175.5" font-size="5.5" fill="#333" stroke="#333" stroke-width="0.12" text-anchor="middle" transform="rotate(-90 333.8 175.5)" textLength="27" lengthAdjust="spacingAndGlyphs">Viability (%)</text>
<path d="M357.88,158.46 L359.12,158.51 L360.37,158.57 L361.61,158.65 L362.86,158.73 L364.1,158.84 L365.35,158.96 L366.59,159.11 L367.84,159.28 L369.08,159.49 L370.33,159.73 L371.57,160.02 L372.82,160.37 L374.07,160.77 L375.31,161.24 L376.56,161.78 L377.8,162.42 L379.05,163.15 L380.29,163.99 L381.54,164.94 L382.78,166.01 L384.03,167.22 L385.27,168.54 L386.52,169.99 L387.77,171.56 L389.01,173.22 L390.26,174.96 L391.5,176.76 L392.75,178.59 L393.99,180.42 L395.24,182.21 L396.48,183.95 L397.73,185.6 L398.97,187.16 L400.22,188.6 L401.46,189.92 L402.71,191.11 L403.96,192.18 L405.2,193.12 L406.45,193.95 L407.69,194.68 L408.94,195.3 L410.18,195.84 L411.43,196.31 L412.67,196.7 L413.92,197.04 L415.16,197.33 L416.41,197.57 L417.66,197.77 L418.9,197.94 L420.15,198.09 L421.39,198.21 L422.64,198.31 L423.88,198.4 L425.13,198.47 L426.37,198.53 L427.62,198.58 L428.86,198.63 L430.11,198.66 L431.35,198.69 L432.6,198.72" fill="none" stroke="#2b4d72" stroke-width="1.25"/>
<circle cx="357.88" cy="158.83" r="1.6" fill="#2b4d72"/>
<circle cx="368.55" cy="158.34" r="1.6" fill="#2b4d72"/>
<circle cx="379.23" cy="163.45" r="1.6" fill="#2b4d72"/>
<circle cx="389.9" cy="172.94" r="1.6" fill="#2b4d72"/>
<circle cx="400.58" cy="187.67" r="1.6" fill="#2b4d72"/>
<circle cx="411.25" cy="197.65" r="1.6" fill="#2b4d72"/>
<circle cx="421.93" cy="199.53" r="1.6" fill="#2b4d72"/>
<circle cx="432.6" cy="199.7" r="1.6" fill="#2b4d72"/>
<path d="M357.88,158.23 L359.12,158.24 L360.37,158.25 L361.61,158.26 L362.86,158.27 L364.1,158.29 L365.35,158.31 L366.59,158.34 L367.84,158.36 L369.08,158.4 L370.33,158.44 L371.57,158.5 L372.82,158.56 L374.07,158.64 L375.31,158.73 L376.56,158.84 L377.8,158.98 L379.05,159.15 L380.29,159.35 L381.54,159.59 L382.78,159.88 L384.03,160.22 L385.27,160.64 L386.52,161.13 L387.77,161.71 L389.01,162.4 L390.26,163.2 L391.5,164.13 L392.75,165.2 L393.99,166.42 L395.24,167.8 L396.48,169.32 L397.73,170.99 L398.97,172.8 L400.22,174.71 L401.46,176.7 L402.71,178.73 L403.96,180.76 L405.2,182.77 L406.45,184.7 L407.69,186.53 L408.94,188.23 L410.18,189.79 L411.43,191.2 L412.67,192.45 L413.92,193.56 L415.16,194.52 L416.41,195.35 L417.66,196.06 L418.9,196.66 L420.15,197.18 L421.39,197.61 L422.64,197.97 L423.88,198.27 L425.13,198.52 L426.37,198.73 L427.62,198.9 L428.86,199.04 L430.11,199.16 L431.35,199.26 L432.6,199.34" fill="none" stroke="#2b4d72" stroke-width="1.25" stroke-dasharray="2.2,1.6"/>
<rect x="356.44" y="155.17" width="2.88" height="2.88" fill="#2b4d72" stroke="#8aa0b8" stroke-width="0.4"/>
<rect x="367.11" y="157.17" width="2.88" height="2.88" fill="#2b4d72" stroke="#8aa0b8" stroke-width="0.4"/>
<rect x="377.79" y="157.29" width="2.88" height="2.88" fill="#2b4d72" stroke="#8aa0b8" stroke-width="0.4"/>
<rect x="388.46" y="162.21" width="2.88" height="2.88" fill="#2b4d72" stroke="#8aa0b8" stroke-width="0.4"/>
<rect x="399.14" y="173.8" width="2.88" height="2.88" fill="#2b4d72" stroke="#8aa0b8" stroke-width="0.4"/>
<rect x="409.81" y="189.97" width="2.88" height="2.88" fill="#2b4d72" stroke="#8aa0b8" stroke-width="0.4"/>
<rect x="420.49" y="196.85" width="2.88" height="2.88" fill="#2b4d72" stroke="#8aa0b8" stroke-width="0.4"/>
<rect x="431.16" y="197.6" width="2.88" height="2.88" fill="#2b4d72" stroke="#8aa0b8" stroke-width="0.4"/>
<path d="M357.88,161.76 L359.12,162.38 L360.37,163.1 L361.61,163.91 L362.86,164.83 L364.1,165.86 L365.35,167 L366.59,168.25 L367.84,169.61 L369.08,171.05 L370.33,172.57 L371.57,174.15 L372.82,175.75 L374.07,177.37 L375.31,178.96 L376.56,180.51 L377.8,181.99 L379.05,183.38 L380.29,184.68 L381.54,185.87 L382.78,186.95 L384.03,187.92 L385.27,188.78 L386.52,189.54 L387.77,190.2 L389.01,190.78 L390.26,191.27 L391.5,191.7 L392.75,192.06 L393.99,192.37 L395.24,192.64 L396.48,192.86 L397.73,193.05 L398.97,193.21 L400.22,193.34 L401.46,193.45 L402.71,193.55 L403.96,193.63 L405.2,193.69 L406.45,193.75 L407.69,193.8 L408.94,193.83 L410.18,193.87 L411.43,193.89 L412.67,193.92 L413.92,193.94 L415.16,193.95 L416.41,193.97 L417.66,193.98 L418.9,193.99 L420.15,193.99 L421.39,194 L422.64,194.01 L423.88,194.01 L425.13,194.01 L426.37,194.02 L427.62,194.02 L428.86,194.02 L430.11,194.02 L431.35,194.03 L432.6,194.03" fill="none" stroke="#9e1f48" stroke-width="1.25"/>
<path d="M357.88,159.71 L359.48,162.75 L356.27,162.75 Z" fill="#9e1f48"/>
<path d="M368.55,167.25 L370.15,170.29 L366.95,170.29 Z" fill="#9e1f48"/>
<path d="M379.23,181.18 L380.83,184.22 L377.62,184.22 Z" fill="#9e1f48"/>
<path d="M389.9,187.88 L391.5,190.92 L388.3,190.92 Z" fill="#9e1f48"/>
<path d="M400.58,190.37 L402.18,193.41 L398.98,193.41 Z" fill="#9e1f48"/>
<path d="M411.25,190.41 L412.85,193.45 L409.65,193.45 Z" fill="#9e1f48"/>
<path d="M421.93,191.64 L423.53,194.68 L420.32,194.68 Z" fill="#9e1f48"/>
<path d="M432.6,193.45 L434.2,196.49 L431,196.49 Z" fill="#9e1f48"/>
<path d="M357.88,158.23 L359.12,158.24 L360.37,158.25 L361.61,158.27 L362.86,158.29 L364.1,158.31 L365.35,158.33 L366.59,158.37 L367.84,158.41 L369.08,158.47 L370.33,158.53 L371.57,158.62 L372.82,158.73 L374.07,158.86 L375.31,159.03 L376.56,159.23 L377.8,159.49 L379.05,159.81 L380.29,160.2 L381.54,160.68 L382.78,161.27 L384.03,161.98 L385.27,162.83 L386.52,163.85 L387.77,165.04 L389.01,166.41 L390.26,167.97 L391.5,169.71 L392.75,171.6 L393.99,173.63 L395.24,175.73 L396.48,177.85 L397.73,179.95 L398.97,181.97 L400.22,183.87 L401.46,185.6 L402.71,187.16 L403.96,188.53 L405.2,189.72 L406.45,190.73 L407.69,191.58 L408.94,192.29 L410.18,192.87 L411.43,193.35 L412.67,193.74 L413.92,194.06 L415.16,194.32 L416.41,194.52 L417.66,194.69 L418.9,194.82 L420.15,194.93 L421.39,195.01 L422.64,195.08 L423.88,195.13 L425.13,195.18 L426.37,195.21 L427.62,195.24 L428.86,195.26 L430.11,195.28 L431.35,195.29 L432.6,195.3" fill="none" stroke="#9e1f48" stroke-width="1.25" stroke-dasharray="2.2,1.6"/>
<circle cx="357.88" cy="156.97" r="1.6" fill="#9e1f48"/>
<circle cx="368.55" cy="156.82" r="1.6" fill="#9e1f48"/>
<circle cx="379.23" cy="158.44" r="1.6" fill="#9e1f48"/>
<circle cx="389.9" cy="167.26" r="1.6" fill="#9e1f48"/>
<circle cx="400.58" cy="183.63" r="1.6" fill="#9e1f48"/>
<circle cx="411.25" cy="194.3" r="1.6" fill="#9e1f48"/>
<circle cx="421.93" cy="193.88" r="1.6" fill="#9e1f48"/>
<circle cx="432.6" cy="195.05" r="1.6" fill="#9e1f48"/>
<path d="M413.9,158.2 L423,158.2" stroke="#2b4d72" stroke-width="0.9"/>
<circle cx="418.45" cy="158.2" r="1.1" fill="#2b4d72"/>
<text x="425.1" y="159.7" font-size="4.4" fill="#333" stroke="#333" stroke-width="0.05" textLength="55" lengthAdjust="spacingAndGlyphs"><tspan font-style="italic">AGGF1-PDGFRB</tspan> (IC50=44.8)</text>
<path d="M413.9,164.8 L423,164.8" stroke="#2b4d72" stroke-width="0.9" stroke-dasharray="2,1.2"/>
<rect x="417.19" y="163.54" width="2.52" height="2.52" fill="#2b4d72" stroke="#8aa0b8" stroke-width="0.4"/>
<text x="425.1" y="166.3" font-size="4.4" fill="#333" stroke="#333" stroke-width="0.05" textLength="61.3" lengthAdjust="spacingAndGlyphs"><tspan font-style="italic">AGGF1-PDGFRB</tspan><tspan font-size="2.6" dy="-1.6">mut</tspan><tspan dy="1.6"> </tspan>(IC50=164.7)</text>
<path d="M413.9,171.8 L423,171.8" stroke="#9e1f48" stroke-width="0.9"/>
<circle cx="418.45" cy="171.8" r="1.1" fill="#9e1f48"/>
<text x="425.1" y="173.3" font-size="4.4" fill="#333" stroke="#333" stroke-width="0.05" textLength="46.5" lengthAdjust="spacingAndGlyphs"><tspan font-style="italic">EBF1-PDGFRB</tspan> (IC50=4.5)</text>
<path d="M413.9,178.6 L423,178.6" stroke="#9e1f48" stroke-width="0.9" stroke-dasharray="2,1.2"/>
<circle cx="418.45" cy="178.6" r="1.6" fill="#9e1f48"/>
<text x="425.1" y="180.1" font-size="4.4" fill="#333" stroke="#333" stroke-width="0.05" textLength="53.9" lengthAdjust="spacingAndGlyphs"><tspan font-style="italic">EBF1-PDGFRB</tspan><tspan font-size="2.6" dy="-1.6">mut</tspan><tspan dy="1.6"> </tspan>(IC50=89.9)</text>
<path d="M488.8,157.4 L491.6,157.4 L491.6,165.6 L488.8,165.6" fill="none" stroke="#111" stroke-width="1.1"/>
<text x="493.9" y="162.9" font-size="4.3" fill="#222" stroke="#222" stroke-width="0.12" textLength="15.8" lengthAdjust="spacingAndGlyphs">P&lt;0.0001</text>
<path d="M488.8,170.8 L491.6,170.8 L491.6,179.4 L488.8,179.4" fill="none" stroke="#111" stroke-width="1.1"/>
<text x="493.9" y="176.5" font-size="4.3" fill="#222" stroke="#222" stroke-width="0.12" textLength="15.8" lengthAdjust="spacingAndGlyphs">P&lt;0.0001</text>
<path d="M167,242.5 L167,294.4 L248.5,294.4" fill="none" stroke="#111" stroke-width="1.3"/>
<path d="M164.4,250.8 L167,250.8" stroke="#111" stroke-width="0.9"/>
<text x="163.4" y="252.6" font-size="5.2" fill="#222" stroke="#222" stroke-width="0.15" text-anchor="end">100</text>
<path d="M164.4,272.5 L167,272.5" stroke="#111" stroke-width="0.9"/>
<text x="163.4" y="274.3" font-size="5.2" fill="#222" stroke="#222" stroke-width="0.15" text-anchor="end">50</text>
<path d="M164.4,294.2 L167,294.2" stroke="#111" stroke-width="0.9"/>
<text x="163.4" y="296" font-size="5.2" fill="#222" stroke="#222" stroke-width="0.15" text-anchor="end">0</text>
<path d="M175.7,294.4 L175.7,296.8" stroke="#111" stroke-width="0.9"/>
<text x="175.7" y="304.2" font-size="5.2" fill="#222" stroke="#222" stroke-width="0.15" text-anchor="middle">-2</text>
<path d="M193.1,294.4 L193.1,296.8" stroke="#111" stroke-width="0.9"/>
<text x="193.1" y="304.2" font-size="5.2" fill="#222" stroke="#222" stroke-width="0.15" text-anchor="middle">-1</text>
<path d="M210.5,294.4 L210.5,296.8" stroke="#111" stroke-width="0.9"/>
<text x="210.5" y="304.2" font-size="5.2" fill="#222" stroke="#222" stroke-width="0.15" text-anchor="middle">0</text>
<path d="M227.9,294.4 L227.9,296.8" stroke="#111" stroke-width="0.9"/>
<text x="227.9" y="304.2" font-size="5.2" fill="#222" stroke="#222" stroke-width="0.15" text-anchor="middle">1</text>
<path d="M245.3,294.4 L245.3,296.8" stroke="#111" stroke-width="0.9"/>
<text x="245.3" y="304.2" font-size="5.2" fill="#222" stroke="#222" stroke-width="0.15" text-anchor="middle">2</text>
<text x="208" y="315.3" font-size="5.8" fill="#222" stroke="#222" stroke-width="0.15" text-anchor="middle" textLength="66" lengthAdjust="spacingAndGlyphs">Log10 (Ponatinib Conc. [nM])</text>
<text x="147.3" y="268" font-size="5.5" fill="#333" stroke="#333" stroke-width="0.12" text-anchor="middle" transform="rotate(-90 147.3 268)" textLength="27" lengthAdjust="spacingAndGlyphs">Viability (%)</text>
<path d="M172.22,256.65 L173.44,256.75 L174.66,256.86 L175.87,257 L177.09,257.14 L178.31,257.32 L179.53,257.51 L180.75,257.74 L181.96,257.99 L183.18,258.28 L184.4,258.61 L185.62,258.99 L186.84,259.41 L188.05,259.88 L189.27,260.42 L190.49,261.01 L191.71,261.68 L192.93,262.41 L194.14,263.22 L195.36,264.1 L196.58,265.05 L197.8,266.08 L199.02,267.19 L200.23,268.35 L201.45,269.58 L202.67,270.86 L203.89,272.17 L205.11,273.51 L206.32,274.86 L207.54,276.21 L208.76,277.55 L209.98,278.85 L211.2,280.11 L212.41,281.33 L213.63,282.48 L214.85,283.56 L216.07,284.57 L217.29,285.5 L218.5,286.36 L219.72,287.15 L220.94,287.86 L222.16,288.5 L223.38,289.08 L224.59,289.6 L225.81,290.06 L227.03,290.47 L228.25,290.83 L229.47,291.15 L230.68,291.43 L231.9,291.67 L233.12,291.89 L234.34,292.08 L235.56,292.24 L236.77,292.38 L237.99,292.51 L239.21,292.62 L240.43,292.71 L241.65,292.8 L242.86,292.87 L244.08,292.93 L245.3,292.98" fill="none" stroke="#2b4d72" stroke-width="1.25"/>
<circle cx="172.22" cy="257.4" r="1.6" fill="#2b4d72"/>
<circle cx="182.66" cy="259.67" r="1.6" fill="#2b4d72"/>
<circle cx="193.1" cy="261.29" r="1.6" fill="#2b4d72"/>
<circle cx="203.54" cy="270.09" r="1.6" fill="#2b4d72"/>
<circle cx="213.98" cy="284.22" r="1.6" fill="#2b4d72"/>
<circle cx="224.42" cy="288.48" r="1.6" fill="#2b4d72"/>
<circle cx="234.86" cy="292.46" r="1.6" fill="#2b4d72"/>
<circle cx="245.3" cy="294.2" r="1.6" fill="#2b4d72"/>
<path d="M172.22,250.84 L173.44,250.84 L174.66,250.85 L175.87,250.87 L177.09,250.88 L178.31,250.9 L179.53,250.92 L180.75,250.94 L181.96,250.97 L183.18,251.01 L184.4,251.05 L185.62,251.11 L186.84,251.17 L188.05,251.25 L189.27,251.34 L190.49,251.46 L191.71,251.59 L192.93,251.76 L194.14,251.96 L195.36,252.2 L196.58,252.48 L197.8,252.83 L199.02,253.23 L200.23,253.72 L201.45,254.29 L202.67,254.96 L203.89,255.74 L205.11,256.65 L206.32,257.7 L207.54,258.88 L208.76,260.22 L209.98,261.71 L211.2,263.35 L212.41,265.11 L213.63,266.99 L214.85,268.96 L216.07,270.98 L217.29,273.01 L218.5,275.02 L219.72,276.98 L220.94,278.84 L222.16,280.59 L223.38,282.21 L224.59,283.68 L225.81,284.99 L227.03,286.16 L228.25,287.18 L229.47,288.07 L230.68,288.84 L231.9,289.5 L233.12,290.05 L234.34,290.53 L235.56,290.92 L236.77,291.26 L237.99,291.54 L239.21,291.77 L240.43,291.96 L241.65,292.12 L242.86,292.26 L244.08,292.37 L245.3,292.46" fill="none" stroke="#2b4d72" stroke-width="1.25" stroke-dasharray="2.2,1.6"/>
<rect x="170.78" y="250.11" width="2.88" height="2.88" fill="#2b4d72" stroke="#8aa0b8" stroke-width="0.4"/>
<rect x="181.22" y="248.62" width="2.88" height="2.88" fill="#2b4d72" stroke="#8aa0b8" stroke-width="0.4"/>
<rect x="191.66" y="249.05" width="2.88" height="2.88" fill="#2b4d72" stroke="#8aa0b8" stroke-width="0.4"/>
<rect x="202.1" y="255.65" width="2.88" height="2.88" fill="#2b4d72" stroke="#8aa0b8" stroke-width="0.4"/>
<rect x="212.54" y="265.71" width="2.88" height="2.88" fill="#2b4d72" stroke="#8aa0b8" stroke-width="0.4"/>
<rect x="222.98" y="283.61" width="2.88" height="2.88" fill="#2b4d72" stroke="#8aa0b8" stroke-width="0.4"/>
<rect x="233.42" y="288.51" width="2.88" height="2.88" fill="#2b4d72" stroke="#8aa0b8" stroke-width="0.4"/>
<rect x="243.86" y="291.61" width="2.88" height="2.88" fill="#2b4d72" stroke="#8aa0b8" stroke-width="0.4"/>
<path d="M172.22,256.8 L173.44,256.92 L174.66,257.06 L175.87,257.22 L177.09,257.4 L178.31,257.6 L179.53,257.84 L180.75,258.11 L181.96,258.42 L183.18,258.77 L184.4,259.16 L185.62,259.61 L186.84,260.11 L188.05,260.67 L189.27,261.29 L190.49,261.98 L191.71,262.75 L192.93,263.58 L194.14,264.5 L195.36,265.49 L196.58,266.55 L197.8,267.68 L199.02,268.87 L200.23,270.12 L201.45,271.42 L202.67,272.74 L203.89,274.09 L205.11,275.44 L206.32,276.79 L207.54,278.11 L208.76,279.4 L209.98,280.64 L211.2,281.83 L212.41,282.95 L213.63,284 L214.85,284.98 L216.07,285.88 L217.29,286.71 L218.5,287.46 L219.72,288.14 L220.94,288.76 L222.16,289.31 L223.38,289.8 L224.59,290.24 L225.81,290.63 L227.03,290.97 L228.25,291.27 L229.47,291.53 L230.68,291.77 L231.9,291.97 L233.12,292.15 L234.34,292.3 L235.56,292.44 L236.77,292.56 L237.99,292.66 L239.21,292.75 L240.43,292.83 L241.65,292.89 L242.86,292.95 L244.08,293 L245.3,293.05" fill="none" stroke="#9e1f48" stroke-width="1.25"/>
<path d="M172.22,253.72 L173.82,256.76 L170.62,256.76 Z" fill="#9e1f48"/>
<path d="M182.66,255.18 L184.26,258.22 L181.06,258.22 Z" fill="#9e1f48"/>
<path d="M193.1,261.93 L194.7,264.97 L191.5,264.97 Z" fill="#9e1f48"/>
<path d="M203.54,270.21 L205.14,273.25 L201.94,273.25 Z" fill="#9e1f48"/>
<path d="M213.98,283.19 L215.58,286.23 L212.38,286.23 Z" fill="#9e1f48"/>
<path d="M224.42,289.89 L226.02,292.93 L222.82,292.93 Z" fill="#9e1f48"/>
<path d="M234.86,290.26 L236.46,293.3 L233.26,293.3 Z" fill="#9e1f48"/>
<path d="M245.3,292.91 L246.9,295.95 L243.7,295.95 Z" fill="#9e1f48"/>
<path d="M172.22,250.83 L173.44,250.84 L174.66,250.85 L175.87,250.86 L177.09,250.87 L178.31,250.88 L179.53,250.9 L180.75,250.92 L181.96,250.95 L183.18,250.98 L184.4,251.02 L185.62,251.07 L186.84,251.12 L188.05,251.19 L189.27,251.27 L190.49,251.37 L191.71,251.49 L192.93,251.64 L194.14,251.81 L195.36,252.02 L196.58,252.27 L197.8,252.58 L199.02,252.94 L200.23,253.36 L201.45,253.87 L202.67,254.47 L203.89,255.17 L205.11,255.99 L206.32,256.94 L207.54,258.02 L208.76,259.25 L209.98,260.63 L211.2,262.17 L212.41,263.84 L213.63,265.64 L214.85,267.55 L216.07,269.53 L217.29,271.56 L218.5,273.59 L219.72,275.59 L220.94,277.52 L222.16,279.36 L223.38,281.07 L224.59,282.64 L225.81,284.07 L227.03,285.34 L228.25,286.47 L229.47,287.45 L230.68,288.31 L231.9,289.04 L233.12,289.67 L234.34,290.2 L235.56,290.65 L236.77,291.03 L237.99,291.34 L239.21,291.61 L240.43,291.83 L241.65,292.01 L242.86,292.17 L244.08,292.29 L245.3,292.4" fill="none" stroke="#9e1f48" stroke-width="1.25" stroke-dasharray="2.2,1.6"/>
<circle cx="172.22" cy="251.88" r="1.6" fill="#9e1f48"/>
<circle cx="182.66" cy="251.29" r="1.6" fill="#9e1f48"/>
<circle cx="193.1" cy="251.28" r="1.6" fill="#9e1f48"/>
<circle cx="203.54" cy="256.15" r="1.6" fill="#9e1f48"/>
<circle cx="213.98" cy="267.77" r="1.6" fill="#9e1f48"/>
<circle cx="224.42" cy="281.15" r="1.6" fill="#9e1f48"/>
<circle cx="234.86" cy="291.05" r="1.6" fill="#9e1f48"/>
<circle cx="245.3" cy="290.81" r="1.6" fill="#9e1f48"/>
<path d="M219.7,244.5 L229.8,244.5" stroke="#2b4d72" stroke-width="0.9"/>
<circle cx="224.75" cy="244.5" r="1.1" fill="#2b4d72"/>
<text x="231.5" y="246" font-size="4.4" fill="#333" stroke="#333" stroke-width="0.05" textLength="56.5" lengthAdjust="spacingAndGlyphs"><tspan font-style="italic">AGGF1-PDGFRB</tspan> (IC50=0.31)</text>
<path d="M219.7,251.5 L229.8,251.5" stroke="#2b4d72" stroke-width="0.9" stroke-dasharray="2,1.2"/>
<rect x="223.49" y="250.24" width="2.52" height="2.52" fill="#2b4d72" stroke="#8aa0b8" stroke-width="0.4"/>
<text x="231.5" y="253" font-size="4.4" fill="#333" stroke="#333" stroke-width="0.05" textLength="58.6" lengthAdjust="spacingAndGlyphs"><tspan font-style="italic">AGGF1-PDGFRB</tspan><tspan font-size="2.6" dy="-1.6">mut</tspan><tspan dy="1.6"> </tspan>(IC50=2.79)</text>
<path d="M219.7,258.9 L229.8,258.9" stroke="#9e1f48" stroke-width="0.9"/>
<circle cx="224.75" cy="258.9" r="1.1" fill="#9e1f48"/>
<text x="231.5" y="260.4" font-size="4.4" fill="#333" stroke="#333" stroke-width="0.05" textLength="54.4" lengthAdjust="spacingAndGlyphs"><tspan font-style="italic">EBF1-PDGFRB</tspan> (IC50=0.28)</text>
<path d="M219.7,266.3 L229.8,266.3" stroke="#9e1f48" stroke-width="0.9" stroke-dasharray="2,1.2"/>
<circle cx="224.75" cy="266.3" r="1.6" fill="#9e1f48"/>
<text x="231.5" y="267.8" font-size="4.4" fill="#333" stroke="#333" stroke-width="0.05" textLength="54.4" lengthAdjust="spacingAndGlyphs"><tspan font-style="italic">EBF1-PDGFRB</tspan><tspan font-size="2.6" dy="-1.6">mut</tspan><tspan dy="1.6"> </tspan>(IC50=2.54)</text>
<path d="M292.4,243.4 L295.2,243.4 L295.2,252.6 L292.4,252.6" fill="none" stroke="#111" stroke-width="1.1"/>
<text x="298.6" y="249.4" font-size="4.3" fill="#222" stroke="#222" stroke-width="0.12" textLength="15.8" lengthAdjust="spacingAndGlyphs">P&lt;0.0001</text>
<path d="M292.4,257.8 L295.2,257.8 L295.2,267.4 L292.4,267.4" fill="none" stroke="#111" stroke-width="1.1"/>
<text x="298.6" y="264" font-size="4.3" fill="#222" stroke="#222" stroke-width="0.12" textLength="15.8" lengthAdjust="spacingAndGlyphs">P&lt;0.0001</text>
<path d="M353.6,243.5 L353.6,294.4 L432.5,294.4" fill="none" stroke="#111" stroke-width="1.3"/>
<path d="M351,252.2 L353.6,252.2" stroke="#111" stroke-width="0.9"/>
<text x="350" y="254" font-size="5.2" fill="#222" stroke="#222" stroke-width="0.15" text-anchor="end">100</text>
<path d="M351,273.2 L353.6,273.2" stroke="#111" stroke-width="0.9"/>
<text x="350" y="275" font-size="5.2" fill="#222" stroke="#222" stroke-width="0.15" text-anchor="end">50</text>
<path d="M351,294.2 L353.6,294.2" stroke="#111" stroke-width="0.9"/>
<text x="350" y="296" font-size="5.2" fill="#222" stroke="#222" stroke-width="0.15" text-anchor="end">0</text>
<path d="M362.2,294.4 L362.2,296.8" stroke="#111" stroke-width="0.9"/>
<text x="362.2" y="304.6" font-size="5.2" fill="#222" stroke="#222" stroke-width="0.15" text-anchor="middle">-2</text>
<path d="M379,294.4 L379,296.8" stroke="#111" stroke-width="0.9"/>
<text x="379" y="304.6" font-size="5.2" fill="#222" stroke="#222" stroke-width="0.15" text-anchor="middle">-1</text>
<path d="M395.8,294.4 L395.8,296.8" stroke="#111" stroke-width="0.9"/>
<text x="395.8" y="304.6" font-size="5.2" fill="#222" stroke="#222" stroke-width="0.15" text-anchor="middle">0</text>
<path d="M412.6,294.4 L412.6,296.8" stroke="#111" stroke-width="0.9"/>
<text x="412.6" y="304.6" font-size="5.2" fill="#222" stroke="#222" stroke-width="0.15" text-anchor="middle">1</text>
<path d="M429.4,294.4 L429.4,296.8" stroke="#111" stroke-width="0.9"/>
<text x="429.4" y="304.6" font-size="5.2" fill="#222" stroke="#222" stroke-width="0.15" text-anchor="middle">2</text>
<text x="394.2" y="315.3" font-size="5.8" fill="#222" stroke="#222" stroke-width="0.15" text-anchor="middle" textLength="63" lengthAdjust="spacingAndGlyphs">Log10 (CHZ868 Conc. [nM])</text>
<text x="333.8" y="268" font-size="5.5" fill="#333" stroke="#333" stroke-width="0.12" text-anchor="middle" transform="rotate(-90 333.8 268)" textLength="27" lengthAdjust="spacingAndGlyphs">Viability (%)</text>
<path d="M358.84,251 L360.02,251.01 L361.19,251.03 L362.37,251.04 L363.54,251.06 L364.72,251.08 L365.9,251.1 L367.07,251.13 L368.25,251.17 L369.42,251.21 L370.6,251.25 L371.78,251.31 L372.95,251.37 L374.13,251.44 L375.3,251.53 L376.48,251.63 L377.66,251.75 L378.83,251.89 L380.01,252.05 L381.18,252.24 L382.36,252.46 L383.54,252.71 L384.71,253.01 L385.89,253.35 L387.06,253.74 L388.24,254.2 L389.42,254.72 L390.59,255.31 L391.77,255.98 L392.94,256.74 L394.12,257.6 L395.3,258.55 L396.47,259.61 L397.65,260.78 L398.82,262.05 L400,263.42 L401.18,264.89 L402.35,266.43 L403.53,268.05 L404.7,269.72 L405.88,271.42 L407.06,273.13 L408.23,274.82 L409.41,276.48 L410.58,278.09 L411.76,279.63 L412.94,281.08 L414.11,282.44 L415.29,283.69 L416.46,284.84 L417.64,285.89 L418.82,286.83 L419.99,287.67 L421.17,288.42 L422.34,289.08 L423.52,289.66 L424.7,290.17 L425.87,290.62 L427.05,291 L428.22,291.34 L429.4,291.62" fill="none" stroke="#2b4d72" stroke-width="1.25"/>
<circle cx="358.84" cy="249.67" r="1.6" fill="#2b4d72"/>
<circle cx="368.92" cy="251.6" r="1.6" fill="#2b4d72"/>
<circle cx="379" cy="252.04" r="1.6" fill="#2b4d72"/>
<circle cx="389.08" cy="254.49" r="1.6" fill="#2b4d72"/>
<circle cx="399.16" cy="261.95" r="1.6" fill="#2b4d72"/>
<circle cx="409.24" cy="275.93" r="1.6" fill="#2b4d72"/>
<circle cx="419.32" cy="287" r="1.6" fill="#2b4d72"/>
<circle cx="429.4" cy="291.22" r="1.6" fill="#2b4d72"/>
<path d="M358.84,251.01 L360.02,251.02 L361.19,251.04 L362.37,251.06 L363.54,251.08 L364.72,251.1 L365.9,251.13 L367.07,251.16 L368.25,251.2 L369.42,251.25 L370.6,251.3 L371.78,251.36 L372.95,251.43 L374.13,251.52 L375.3,251.62 L376.48,251.73 L377.66,251.87 L378.83,252.03 L380.01,252.21 L381.18,252.43 L382.36,252.68 L383.54,252.96 L384.71,253.3 L385.89,253.68 L387.06,254.13 L388.24,254.64 L389.42,255.22 L390.59,255.88 L391.77,256.63 L392.94,257.47 L394.12,258.41 L395.3,259.46 L396.47,260.61 L397.65,261.86 L398.82,263.22 L400,264.67 L401.18,266.21 L402.35,267.82 L403.53,269.48 L404.7,271.17 L405.88,272.88 L407.06,274.58 L408.23,276.25 L409.41,277.87 L410.58,279.41 L411.76,280.88 L412.94,282.25 L414.11,283.52 L415.29,284.69 L416.46,285.75 L417.64,286.7 L418.82,287.56 L419.99,288.32 L421.17,288.99 L422.34,289.58 L423.52,290.1 L424.7,290.56 L425.87,290.95 L427.05,291.29 L428.22,291.59 L429.4,291.84" fill="none" stroke="#2b4d72" stroke-width="1.25" stroke-dasharray="2.2,1.6"/>
<rect x="357.4" y="248.09" width="2.88" height="2.88" fill="#2b4d72" stroke="#8aa0b8" stroke-width="0.4"/>
<rect x="367.48" y="249.76" width="2.88" height="2.88" fill="#2b4d72" stroke="#8aa0b8" stroke-width="0.4"/>
<rect x="377.56" y="250.84" width="2.88" height="2.88" fill="#2b4d72" stroke="#8aa0b8" stroke-width="0.4"/>
<rect x="387.64" y="252.87" width="2.88" height="2.88" fill="#2b4d72" stroke="#8aa0b8" stroke-width="0.4"/>
<rect x="397.72" y="263.07" width="2.88" height="2.88" fill="#2b4d72" stroke="#8aa0b8" stroke-width="0.4"/>
<rect x="407.8" y="276.87" width="2.88" height="2.88" fill="#2b4d72" stroke="#8aa0b8" stroke-width="0.4"/>
<rect x="417.88" y="284.85" width="2.88" height="2.88" fill="#2b4d72" stroke="#8aa0b8" stroke-width="0.4"/>
<rect x="427.96" y="290.33" width="2.88" height="2.88" fill="#2b4d72" stroke="#8aa0b8" stroke-width="0.4"/>
<path d="M358.84,250.97 L360.02,250.98 L361.19,250.98 L362.37,250.99 L363.54,251 L364.72,251.01 L365.9,251.02 L367.07,251.04 L368.25,251.05 L369.42,251.07 L370.6,251.1 L371.78,251.13 L372.95,251.16 L374.13,251.2 L375.3,251.24 L376.48,251.29 L377.66,251.35 L378.83,251.42 L380.01,251.51 L381.18,251.61 L382.36,251.72 L383.54,251.85 L384.71,252.01 L385.89,252.19 L387.06,252.4 L388.24,252.65 L389.42,252.93 L390.59,253.26 L391.77,253.64 L392.94,254.07 L394.12,254.57 L395.3,255.13 L396.47,255.78 L397.65,256.51 L398.82,257.33 L400,258.24 L401.18,259.25 L402.35,260.36 L403.53,261.57 L404.7,262.87 L405.88,264.26 L407.06,265.73 L408.23,267.26 L409.41,268.83 L410.58,270.43 L411.76,272.04 L412.94,273.63 L414.11,275.19 L415.29,276.69 L416.46,278.12 L417.64,279.48 L418.82,280.74 L419.99,281.91 L421.17,282.98 L422.34,283.94 L423.52,284.82 L424.7,285.59 L425.87,286.29 L427.05,286.9 L428.22,287.43 L429.4,287.9" fill="none" stroke="#9e1f48" stroke-width="1.25"/>
<path d="M358.84,249.05 L360.44,252.09 L357.24,252.09 Z" fill="#9e1f48"/>
<path d="M368.92,250.95 L370.52,253.99 L367.32,253.99 Z" fill="#9e1f48"/>
<path d="M379,249.96 L380.6,253 L377.4,253 Z" fill="#9e1f48"/>
<path d="M389.08,250.82 L390.68,253.86 L387.48,253.86 Z" fill="#9e1f48"/>
<path d="M399.16,257.43 L400.76,260.47 L397.56,260.47 Z" fill="#9e1f48"/>
<path d="M409.24,266.45 L410.84,269.49 L407.64,269.49 Z" fill="#9e1f48"/>
<path d="M419.32,279.05 L420.92,282.09 L417.72,282.09 Z" fill="#9e1f48"/>
<path d="M429.4,287.62 L431,290.66 L427.8,290.66 Z" fill="#9e1f48"/>
<path d="M358.84,250.99 L360.02,250.99 L361.19,251 L362.37,251.01 L363.54,251.03 L364.72,251.04 L365.9,251.06 L367.07,251.08 L368.25,251.11 L369.42,251.13 L370.6,251.17 L371.78,251.21 L372.95,251.25 L374.13,251.31 L375.3,251.37 L376.48,251.45 L377.66,251.53 L378.83,251.64 L380.01,251.76 L381.18,251.89 L382.36,252.06 L383.54,252.25 L384.71,252.47 L385.89,252.72 L387.06,253.02 L388.24,253.36 L389.42,253.75 L390.59,254.2 L391.77,254.72 L392.94,255.31 L394.12,255.98 L395.3,256.74 L396.47,257.59 L397.65,258.53 L398.82,259.58 L400,260.73 L401.18,261.98 L402.35,263.32 L403.53,264.75 L404.7,266.26 L405.88,267.83 L407.06,269.44 L408.23,271.08 L409.41,272.71 L410.58,274.34 L411.76,275.92 L412.94,277.45 L414.11,278.9 L415.29,280.27 L416.46,281.55 L417.64,282.72 L418.82,283.8 L419.99,284.77 L421.17,285.65 L422.34,286.43 L423.52,287.12 L424.7,287.74 L425.87,288.28 L427.05,288.75 L428.22,289.16 L429.4,289.51" fill="none" stroke="#9e1f48" stroke-width="1.25" stroke-dasharray="2.2,1.6"/>
<circle cx="358.84" cy="250.56" r="1.6" fill="#9e1f48"/>
<circle cx="368.92" cy="251.23" r="1.6" fill="#9e1f48"/>
<circle cx="379" cy="251.05" r="1.6" fill="#9e1f48"/>
<circle cx="389.08" cy="254.13" r="1.6" fill="#9e1f48"/>
<circle cx="399.16" cy="259.2" r="1.6" fill="#9e1f48"/>
<circle cx="409.24" cy="271.68" r="1.6" fill="#9e1f48"/>
<circle cx="419.32" cy="285.83" r="1.6" fill="#9e1f48"/>
<circle cx="429.4" cy="290.99" r="1.6" fill="#9e1f48"/>
<path d="M414.5,244.5 L423.6,244.5" stroke="#2b4d72" stroke-width="0.9"/>
<circle cx="419.05" cy="244.5" r="1.1" fill="#2b4d72"/>
<text x="425.1" y="246" font-size="4.4" fill="#333" stroke="#333" stroke-width="0.05" textLength="53.9" lengthAdjust="spacingAndGlyphs"><tspan font-style="italic">AGGF1-PDGFRB</tspan> (IC50=4.3)</text>
<path d="M414.5,251.5 L423.6,251.5" stroke="#2b4d72" stroke-width="0.9" stroke-dasharray="2,1.2"/>
<rect x="417.79" y="250.24" width="2.52" height="2.52" fill="#2b4d72" stroke="#8aa0b8" stroke-width="0.4"/>
<text x="425.1" y="253" font-size="4.4" fill="#333" stroke="#333" stroke-width="0.05" textLength="55" lengthAdjust="spacingAndGlyphs"><tspan font-style="italic">AGGF1-PDGFRB</tspan><tspan font-size="2.6" dy="-1.6">mut</tspan><tspan dy="1.6"> </tspan>(IC50=3.7)</text>
<path d="M414.5,258.9 L423.6,258.9" stroke="#9e1f48" stroke-width="0.9"/>
<circle cx="419.05" cy="258.9" r="1.1" fill="#9e1f48"/>
<text x="425.1" y="260.4" font-size="4.4" fill="#333" stroke="#333" stroke-width="0.05" textLength="49.7" lengthAdjust="spacingAndGlyphs"><tspan font-style="italic">EBF1-PDGFRB</tspan> (IC50=7.7)</text>
<path d="M414.5,266.3 L423.6,266.3" stroke="#9e1f48" stroke-width="0.9" stroke-dasharray="2,1.2"/>
<circle cx="419.05" cy="266.3" r="1.6" fill="#9e1f48"/>
<text x="425.1" y="267.8" font-size="4.4" fill="#333" stroke="#333" stroke-width="0.05" textLength="52.9" lengthAdjust="spacingAndGlyphs"><tspan font-style="italic">EBF1-PDGFRB</tspan><tspan font-size="2.6" dy="-1.6">mut</tspan><tspan dy="1.6"> </tspan>(IC50=5.4)</text>
<rect x="180.76" y="150.16" width="2.88" height="2.88" fill="#2b4d72" stroke="#8aa0b8" stroke-width="0.4"/>
<circle cx="182.3" cy="265" r="1.6" fill="#9e1f48"/>
<circle cx="182.3" cy="268.6" r="1.6" fill="#9e1f48"/>
<rect x="201.96" y="265.06" width="2.88" height="2.88" fill="#2b4d72" stroke="#8aa0b8" stroke-width="0.4"/>
<circle cx="193.3" cy="257.8" r="1.6" fill="#9e1f48"/>
<path d="M182.3,262.5 L182.3,270.5 M203.4,263.5 L203.4,269.5" stroke="#7a2040" stroke-width="0.6"/>
<defs><filter id="bl" x="-20%" y="-100%" width="140%" height="300%"><feGaussianBlur stdDeviation="0.75"/></filter></defs>
<rect x="91.5" y="362" width="146.7" height="9.2" fill="#d6d6d6"/>
<g filter="url(#bl)">
<rect x="93.6" y="364.27" width="13.4" height="3.25" rx="0.8" fill="#595959"/>
<rect x="109.9" y="364.27" width="13.4" height="3.25" rx="0.8" fill="#595959"/>
<rect x="126.2" y="364.27" width="13.4" height="3.25" rx="0.8" fill="#4f4f4f"/>
<rect x="142.5" y="364.27" width="13.4" height="3.25" rx="0.8" fill="#595959"/>
<rect x="158.8" y="364.27" width="13.4" height="3.25" rx="0.8" fill="#b0b0b0"/>
<rect x="191.4" y="364.27" width="13.4" height="3.25" rx="0.8" fill="#363636"/>
<rect x="207.7" y="364.27" width="13.4" height="3.25" rx="0.8" fill="#4f4f4f"/>
<rect x="224" y="364.27" width="13.4" height="3.25" rx="0.8" fill="#595959"/>
</g>
<text x="88.5" y="368.3" font-size="7.6" fill="#222" stroke="#222" stroke-width="0.2" text-anchor="end" textLength="33" lengthAdjust="spacingAndGlyphs">Anti-pStat5</text>
<rect x="91.5" y="375" width="146.7" height="9.2" fill="#d6d6d6"/>
<g filter="url(#bl)">
<rect x="93.6" y="378.23" width="13.4" height="2.75" rx="0.8" fill="#7a7a7a"/>
<rect x="109.9" y="378.23" width="13.4" height="2.75" rx="0.8" fill="#6e6e6e"/>
<rect x="126.2" y="378.23" width="13.4" height="2.75" rx="0.8" fill="#6e6e6e"/>
<rect x="142.5" y="378.23" width="13.4" height="2.75" rx="0.8" fill="#7a7a7a"/>
<rect x="158.8" y="378.23" width="13.4" height="2.75" rx="0.8" fill="#7a7a7a"/>
<rect x="175.1" y="378.23" width="13.4" height="2.75" rx="0.8" fill="#7a7a7a"/>
<rect x="191.4" y="378.23" width="13.4" height="2.75" rx="0.8" fill="#696969"/>
<rect x="207.7" y="378.23" width="13.4" height="2.75" rx="0.8" fill="#696969"/>
<rect x="224" y="378.23" width="13.4" height="2.75" rx="0.8" fill="#6e6e6e"/>
</g>
<text x="88.5" y="381.3" font-size="7.6" fill="#222" stroke="#222" stroke-width="0.2" text-anchor="end" textLength="29.2" lengthAdjust="spacingAndGlyphs">Anti-Stat5</text>
<rect x="91.5" y="388.6" width="146.7" height="8" fill="#d6d6d6"/>
<g filter="url(#bl)">
<rect x="93.6" y="391" width="13.4" height="3" rx="0.8" fill="#595959"/>
<rect x="109.9" y="391" width="13.4" height="3" rx="0.8" fill="#595959"/>
<rect x="126.2" y="391" width="13.4" height="3" rx="0.8" fill="#595959"/>
<rect x="142.5" y="391" width="13.4" height="3" rx="0.8" fill="#4f4f4f"/>
<rect x="158.8" y="391" width="13.4" height="3" rx="0.8" fill="#a6a6a6"/>
<rect x="191.4" y="391" width="13.4" height="3" rx="0.8" fill="#4f4f4f"/>
<rect x="207.7" y="391" width="13.4" height="3" rx="0.8" fill="#595959"/>
<rect x="224" y="391" width="13.4" height="3" rx="0.8" fill="#5e5e5e"/>
</g>
<text x="88.5" y="395" font-size="7.6" fill="#222" stroke="#222" stroke-width="0.2" text-anchor="end" textLength="28.5" lengthAdjust="spacingAndGlyphs">Anti-pAkt</text>
<rect x="91.5" y="400.8" width="146.7" height="11.8" fill="#d6d6d6"/>
<g filter="url(#bl)">
<rect x="93.6" y="404.4" width="13.4" height="4" rx="0.8" fill="#000000"/>
<rect x="109.9" y="404.4" width="13.4" height="4" rx="0.8" fill="#000000"/>
<rect x="126.2" y="404.4" width="13.4" height="4" rx="0.8" fill="#000000"/>
<rect x="142.5" y="404.4" width="13.4" height="4" rx="0.8" fill="#000000"/>
<rect x="158.8" y="404.4" width="13.4" height="4" rx="0.8" fill="#000000"/>
<rect x="175.1" y="404.4" width="13.4" height="4" rx="0.8" fill="#000000"/>
<rect x="191.4" y="404.4" width="13.4" height="4" rx="0.8" fill="#000000"/>
<rect x="207.7" y="404.4" width="13.4" height="4" rx="0.8" fill="#000000"/>
<rect x="224" y="404.4" width="13.4" height="4" rx="0.8" fill="#000000"/>
</g>
<text x="88.5" y="408.1" font-size="7.6" fill="#222" stroke="#222" stroke-width="0.2" text-anchor="end" textLength="24.3" lengthAdjust="spacingAndGlyphs">Anti-Akt</text>
<rect x="91.5" y="416.5" width="146.7" height="18.2" fill="#d6d6d6"/>
<g filter="url(#bl)">
<rect x="93.6" y="420.5" width="13.4" height="3" rx="0.8" fill="#6e6e6e"/>
<rect x="109.9" y="420.5" width="13.4" height="3" rx="0.8" fill="#6e6e6e"/>
<rect x="126.2" y="420.5" width="13.4" height="3" rx="0.8" fill="#6e6e6e"/>
<rect x="142.5" y="420.5" width="13.4" height="3" rx="0.8" fill="#6e6e6e"/>
<rect x="158.8" y="420.5" width="13.4" height="3" rx="0.8" fill="#ababab"/>
<rect x="191.4" y="420.5" width="13.4" height="3" rx="0.8" fill="#3b3b3b"/>
<rect x="207.7" y="420.5" width="13.4" height="3" rx="0.8" fill="#424242"/>
<rect x="224" y="420.5" width="13.4" height="3" rx="0.8" fill="#474747"/>
<rect x="93.6" y="426.7" width="13.4" height="3" rx="0.8" fill="#616161"/>
<rect x="109.9" y="426.7" width="13.4" height="3" rx="0.8" fill="#616161"/>
<rect x="126.2" y="426.7" width="13.4" height="3" rx="0.8" fill="#616161"/>
<rect x="142.5" y="426.7" width="13.4" height="3" rx="0.8" fill="#616161"/>
<rect x="158.8" y="426.7" width="13.4" height="3" rx="0.8" fill="#a6a6a6"/>
<rect x="191.4" y="426.7" width="13.4" height="3" rx="0.8" fill="#3b3b3b"/>
<rect x="207.7" y="426.7" width="13.4" height="3" rx="0.8" fill="#424242"/>
<rect x="224" y="426.7" width="13.4" height="3" rx="0.8" fill="#474747"/>
</g>
<text x="88.5" y="427.7" font-size="7.6" fill="#222" stroke="#222" stroke-width="0.2" text-anchor="end" textLength="37" lengthAdjust="spacingAndGlyphs">Anti-pErk1/2</text>
<rect x="91.5" y="438.8" width="146.7" height="18.5" fill="#d6d6d6"/>
<g filter="url(#bl)">
<rect x="93.6" y="440.95" width="13.4" height="3.5" rx="0.8" fill="#030303"/>
<rect x="109.9" y="440.95" width="13.4" height="3.5" rx="0.8" fill="#030303"/>
<rect x="126.2" y="440.95" width="13.4" height="3.5" rx="0.8" fill="#030303"/>
<rect x="142.5" y="440.95" width="13.4" height="3.5" rx="0.8" fill="#030303"/>
<rect x="158.8" y="440.95" width="13.4" height="3.5" rx="0.8" fill="#030303"/>
<rect x="175.1" y="440.95" width="13.4" height="3.5" rx="0.8" fill="#030303"/>
<rect x="191.4" y="440.95" width="13.4" height="3.5" rx="0.8" fill="#030303"/>
<rect x="207.7" y="440.95" width="13.4" height="3.5" rx="0.8" fill="#030303"/>
<rect x="224" y="440.95" width="13.4" height="3.5" rx="0.8" fill="#030303"/>
<rect x="93.6" y="448.43" width="13.4" height="2.75" rx="0.8" fill="#8c8c8c"/>
<rect x="109.9" y="448.43" width="13.4" height="2.75" rx="0.8" fill="#8c8c8c"/>
<rect x="126.2" y="448.43" width="13.4" height="2.75" rx="0.8" fill="#8c8c8c"/>
<rect x="142.5" y="448.43" width="13.4" height="2.75" rx="0.8" fill="#8c8c8c"/>
<rect x="158.8" y="448.43" width="13.4" height="2.75" rx="0.8" fill="#8c8c8c"/>
<rect x="175.1" y="448.43" width="13.4" height="2.75" rx="0.8" fill="#545454"/>
<rect x="191.4" y="448.43" width="13.4" height="2.75" rx="0.8" fill="#595959"/>
<rect x="207.7" y="448.43" width="13.4" height="2.75" rx="0.8" fill="#5e5e5e"/>
<rect x="224" y="448.43" width="13.4" height="2.75" rx="0.8" fill="#696969"/>
</g>
<text x="88.5" y="447.5" font-size="7.6" fill="#222" stroke="#222" stroke-width="0.2" text-anchor="end" textLength="33.1" lengthAdjust="spacingAndGlyphs">Anti-Erk1/2</text>
<rect x="91.5" y="460.8" width="146.7" height="11.2" fill="#d6d6d6"/>
<g filter="url(#bl)">
<rect x="93.6" y="465.62" width="13.4" height="2.75" rx="0.8" fill="#3b3b3b"/>
<rect x="109.9" y="465.62" width="13.4" height="2.75" rx="0.8" fill="#3b3b3b"/>
<rect x="126.2" y="465.62" width="13.4" height="2.75" rx="0.8" fill="#3b3b3b"/>
<rect x="142.5" y="465.62" width="13.4" height="2.75" rx="0.8" fill="#3b3b3b"/>
<rect x="158.8" y="465.62" width="13.4" height="2.75" rx="0.8" fill="#3b3b3b"/>
<rect x="175.1" y="465.62" width="13.4" height="2.75" rx="0.8" fill="#3b3b3b"/>
<rect x="191.4" y="465.62" width="13.4" height="2.75" rx="0.8" fill="#3b3b3b"/>
<rect x="207.7" y="465.62" width="13.4" height="2.75" rx="0.8" fill="#3b3b3b"/>
<rect x="224" y="465.62" width="13.4" height="2.75" rx="0.8" fill="#3b3b3b"/>
</g>
<text x="88.5" y="469.1" font-size="7.6" fill="#222" stroke="#222" stroke-width="0.2" text-anchor="end" textLength="22.3" lengthAdjust="spacingAndGlyphs">Anti-H3</text>
<rect x="97.3" y="348.2" width="40" height="1.2" fill="#222"/>
<text x="115.8" y="345.6" font-size="7.2" fill="#222" stroke="#222" stroke-width="0.15" text-anchor="middle" textLength="15.5" lengthAdjust="spacingAndGlyphs">Mock</text>
<rect x="141.9" y="348.2" width="44.6" height="1.2" fill="#222"/>
<text x="163.9" y="345.6" font-size="7.2" fill="#222" stroke="#222" stroke-width="0.15" text-anchor="middle" textLength="47.5" lengthAdjust="spacingAndGlyphs">AGGF1-PDGFRB</text>
<rect x="192.7" y="348.2" width="44.6" height="1.2" fill="#222"/>
<text x="192.8" y="345.6" font-size="7.2" fill="#222" stroke="#222" stroke-width="0.15" textLength="46.5" lengthAdjust="spacingAndGlyphs">AGGF1-PDGFRB</text>
<text x="239.6" y="342.2" font-size="3.6" fill="#222">mut</text>
<text x="101" y="358.4" font-size="7.2" fill="#222" stroke="#222" stroke-width="0.15" text-anchor="middle">0</text>
<text x="116.7" y="358.4" font-size="7.2" fill="#222" stroke="#222" stroke-width="0.15" text-anchor="middle">1</text>
<text x="131.2" y="358.4" font-size="7.2" fill="#222" stroke="#222" stroke-width="0.15" text-anchor="middle">10</text>
<text x="146.5" y="358.4" font-size="7.2" fill="#222" stroke="#222" stroke-width="0.15" text-anchor="middle">0</text>
<text x="161.9" y="358.4" font-size="7.2" fill="#222" stroke="#222" stroke-width="0.15" text-anchor="middle">1</text>
<text x="177.3" y="358.4" font-size="7.2" fill="#222" stroke="#222" stroke-width="0.15" text-anchor="middle">10</text>
<text x="197.9" y="358.4" font-size="7.2" fill="#222" stroke="#222" stroke-width="0.15" text-anchor="middle">0</text>
<text x="212.7" y="358.4" font-size="7.2" fill="#222" stroke="#222" stroke-width="0.15" text-anchor="middle">1</text>
<text x="228.1" y="358.4" font-size="7.2" fill="#222" stroke="#222" stroke-width="0.15" text-anchor="middle">10</text>
<text x="46.3" y="358.4" font-size="7.2" fill="#222" stroke="#222" stroke-width="0.15" textLength="42.4" lengthAdjust="spacingAndGlyphs">Dasatinib (nM)</text>
<rect x="316.2" y="362" width="160.8" height="9.3" fill="#d4d4d4"/>
<g filter="url(#bl)">
<rect x="318.4" y="364.51" width="15.6" height="3.77" rx="0.8" fill="#474747"/>
<rect x="336.3" y="364.51" width="15.6" height="3.77" rx="0.8" fill="#474747"/>
<rect x="354.2" y="364.51" width="15.6" height="3.77" rx="0.8" fill="#474747"/>
<rect x="372.1" y="364.51" width="15.6" height="3.77" rx="0.8" fill="#474747"/>
<rect x="390" y="364.51" width="15.6" height="3.77" rx="0.8" fill="#adadad"/>
<rect x="407.9" y="364.51" width="15.6" height="3.77" rx="0.8" fill="#cccccc"/>
<rect x="425.8" y="364.51" width="15.6" height="3.77" rx="0.8" fill="#474747"/>
<rect x="443.7" y="364.51" width="15.6" height="3.77" rx="0.8" fill="#9e9e9e"/>
<rect x="461.6" y="364.51" width="15.6" height="3.77" rx="0.8" fill="#d1d1d1"/>
</g>
<text x="312.7" y="369.6" font-size="7.6" fill="#222" stroke="#222" stroke-width="0.2" text-anchor="end" textLength="32.7" lengthAdjust="spacingAndGlyphs">Anti-pStat5</text>
<rect x="316.2" y="376" width="160.8" height="9.8" fill="#d4d4d4"/>
<g filter="url(#bl)">
<rect x="318.4" y="378.43" width="15.6" height="4.35" rx="0.8" fill="#2e2e2e"/>
<rect x="336.3" y="378.43" width="15.6" height="4.35" rx="0.8" fill="#2e2e2e"/>
<rect x="354.2" y="378.43" width="15.6" height="4.35" rx="0.8" fill="#2e2e2e"/>
<rect x="372.1" y="378.43" width="15.6" height="4.35" rx="0.8" fill="#2e2e2e"/>
<rect x="390" y="378.43" width="15.6" height="4.35" rx="0.8" fill="#2e2e2e"/>
<rect x="407.9" y="378.43" width="15.6" height="4.35" rx="0.8" fill="#2e2e2e"/>
<rect x="425.8" y="378.43" width="15.6" height="4.35" rx="0.8" fill="#2e2e2e"/>
<rect x="443.7" y="378.43" width="15.6" height="4.35" rx="0.8" fill="#2e2e2e"/>
<rect x="461.6" y="378.43" width="15.6" height="4.35" rx="0.8" fill="#2e2e2e"/>
</g>
<text x="312.7" y="383.8" font-size="7.6" fill="#222" stroke="#222" stroke-width="0.2" text-anchor="end" textLength="28.7" lengthAdjust="spacingAndGlyphs">Anti-Stat5</text>
<rect x="316.2" y="390.4" width="160.8" height="8.8" fill="#d4d4d4"/>
<g filter="url(#bl)">
<rect x="318.4" y="392.62" width="15.6" height="3.77" rx="0.8" fill="#383838"/>
<rect x="336.3" y="392.62" width="15.6" height="3.77" rx="0.8" fill="#383838"/>
<rect x="354.2" y="392.62" width="15.6" height="3.77" rx="0.8" fill="#383838"/>
<rect x="372.1" y="392.62" width="15.6" height="3.77" rx="0.8" fill="#474747"/>
<rect x="390" y="392.62" width="15.6" height="3.77" rx="0.8" fill="#adadad"/>
<rect x="407.9" y="392.62" width="15.6" height="3.77" rx="0.8" fill="#cccccc"/>
<rect x="425.8" y="392.62" width="15.6" height="3.77" rx="0.8" fill="#383838"/>
<rect x="443.7" y="392.62" width="15.6" height="3.77" rx="0.8" fill="#adadad"/>
</g>
<text x="312.7" y="397.9" font-size="7.6" fill="#222" stroke="#222" stroke-width="0.2" text-anchor="end" textLength="27.7" lengthAdjust="spacingAndGlyphs">Anti-pAkt</text>
<rect x="316.2" y="403.3" width="160.8" height="10.5" fill="#d4d4d4"/>
<g filter="url(#bl)">
<rect x="318.4" y="406.47" width="15.6" height="4.06" rx="0.8" fill="#2e2e2e"/>
<rect x="336.3" y="406.47" width="15.6" height="4.06" rx="0.8" fill="#2e2e2e"/>
<rect x="354.2" y="406.47" width="15.6" height="4.06" rx="0.8" fill="#2e2e2e"/>
<rect x="372.1" y="406.47" width="15.6" height="4.06" rx="0.8" fill="#2e2e2e"/>
<rect x="390" y="406.47" width="15.6" height="4.06" rx="0.8" fill="#2e2e2e"/>
<rect x="407.9" y="406.47" width="15.6" height="4.06" rx="0.8" fill="#2e2e2e"/>
<rect x="425.8" y="406.47" width="15.6" height="4.06" rx="0.8" fill="#2e2e2e"/>
<rect x="443.7" y="406.47" width="15.6" height="4.06" rx="0.8" fill="#2e2e2e"/>
<rect x="461.6" y="406.47" width="15.6" height="4.06" rx="0.8" fill="#2e2e2e"/>
</g>
<text x="312.7" y="411.1" font-size="7.6" fill="#222" stroke="#222" stroke-width="0.2" text-anchor="end" textLength="23.9" lengthAdjust="spacingAndGlyphs">Anti-Akt</text>
<rect x="316.2" y="420.5" width="160.8" height="14.4" fill="#d4d4d4"/>
<g filter="url(#bl)">
<rect x="318.4" y="422.97" width="15.6" height="4.06" rx="0.8" fill="#1a1a1a"/>
<rect x="336.3" y="422.97" width="15.6" height="4.06" rx="0.8" fill="#1a1a1a"/>
<rect x="354.2" y="422.97" width="15.6" height="4.06" rx="0.8" fill="#1a1a1a"/>
<rect x="372.1" y="422.97" width="15.6" height="4.06" rx="0.8" fill="#1a1a1a"/>
<rect x="390" y="422.97" width="15.6" height="4.06" rx="0.8" fill="#999999"/>
<rect x="407.9" y="422.97" width="15.6" height="4.06" rx="0.8" fill="#c7c7c7"/>
<rect x="425.8" y="422.97" width="15.6" height="4.06" rx="0.8" fill="#1f1f1f"/>
<rect x="443.7" y="422.97" width="15.6" height="4.06" rx="0.8" fill="#999999"/>
<rect x="461.6" y="422.97" width="15.6" height="4.06" rx="0.8" fill="#cccccc"/>
<rect x="318.4" y="428.06" width="15.6" height="3.48" rx="0.8" fill="#262626"/>
<rect x="336.3" y="428.06" width="15.6" height="3.48" rx="0.8" fill="#262626"/>
<rect x="354.2" y="428.06" width="15.6" height="3.48" rx="0.8" fill="#262626"/>
<rect x="372.1" y="428.06" width="15.6" height="3.48" rx="0.8" fill="#262626"/>
<rect x="390" y="428.06" width="15.6" height="3.48" rx="0.8" fill="#a6a6a6"/>
<rect x="407.9" y="428.06" width="15.6" height="3.48" rx="0.8" fill="#d1d1d1"/>
<rect x="425.8" y="428.06" width="15.6" height="3.48" rx="0.8" fill="#333333"/>
<rect x="443.7" y="428.06" width="15.6" height="3.48" rx="0.8" fill="#a6a6a6"/>
<rect x="461.6" y="428.06" width="15.6" height="3.48" rx="0.8" fill="#d1d1d1"/>
</g>
<text x="312.7" y="430" font-size="7.6" fill="#222" stroke="#222" stroke-width="0.2" text-anchor="end" textLength="36.1" lengthAdjust="spacingAndGlyphs">Anti-pErk1/2</text>
<rect x="316.2" y="438.1" width="160.8" height="15.3" fill="#d4d4d4"/>
<g filter="url(#bl)">
<rect x="318.4" y="440.37" width="15.6" height="4.06" rx="0.8" fill="#1f1f1f"/>
<rect x="336.3" y="440.37" width="15.6" height="4.06" rx="0.8" fill="#1f1f1f"/>
<rect x="354.2" y="440.37" width="15.6" height="4.06" rx="0.8" fill="#1f1f1f"/>
<rect x="372.1" y="440.37" width="15.6" height="4.06" rx="0.8" fill="#1f1f1f"/>
<rect x="390" y="440.37" width="15.6" height="4.06" rx="0.8" fill="#1f1f1f"/>
<rect x="407.9" y="440.37" width="15.6" height="4.06" rx="0.8" fill="#1f1f1f"/>
<rect x="425.8" y="440.37" width="15.6" height="4.06" rx="0.8" fill="#1f1f1f"/>
<rect x="443.7" y="440.37" width="15.6" height="4.06" rx="0.8" fill="#1f1f1f"/>
<rect x="461.6" y="440.37" width="15.6" height="4.06" rx="0.8" fill="#1f1f1f"/>
<rect x="318.4" y="446.12" width="15.6" height="3.77" rx="0.8" fill="#2e2e2e"/>
<rect x="336.3" y="446.12" width="15.6" height="3.77" rx="0.8" fill="#2e2e2e"/>
<rect x="354.2" y="446.12" width="15.6" height="3.77" rx="0.8" fill="#2e2e2e"/>
<rect x="372.1" y="446.12" width="15.6" height="3.77" rx="0.8" fill="#2e2e2e"/>
<rect x="390" y="446.12" width="15.6" height="3.77" rx="0.8" fill="#2e2e2e"/>
<rect x="407.9" y="446.12" width="15.6" height="3.77" rx="0.8" fill="#2e2e2e"/>
<rect x="425.8" y="446.12" width="15.6" height="3.77" rx="0.8" fill="#2e2e2e"/>
<rect x="443.7" y="446.12" width="15.6" height="3.77" rx="0.8" fill="#2e2e2e"/>
<rect x="461.6" y="446.12" width="15.6" height="3.77" rx="0.8" fill="#2e2e2e"/>
</g>
<text x="312.7" y="447.5" font-size="7.6" fill="#222" stroke="#222" stroke-width="0.2" text-anchor="end" textLength="32.7" lengthAdjust="spacingAndGlyphs">Anti-Erk1/2</text>
<rect x="316.2" y="457.1" width="160.8" height="10.5" fill="#d4d4d4"/>
<g filter="url(#bl)">
<rect x="318.4" y="460.46" width="15.6" height="3.48" rx="0.8" fill="#383838"/>
<rect x="336.3" y="460.46" width="15.6" height="3.48" rx="0.8" fill="#383838"/>
<rect x="354.2" y="460.46" width="15.6" height="3.48" rx="0.8" fill="#383838"/>
<rect x="372.1" y="460.46" width="15.6" height="3.48" rx="0.8" fill="#383838"/>
<rect x="390" y="460.46" width="15.6" height="3.48" rx="0.8" fill="#383838"/>
<rect x="407.9" y="460.46" width="15.6" height="3.48" rx="0.8" fill="#383838"/>
<rect x="425.8" y="460.46" width="15.6" height="3.48" rx="0.8" fill="#383838"/>
<rect x="443.7" y="460.46" width="15.6" height="3.48" rx="0.8" fill="#383838"/>
<rect x="461.6" y="460.46" width="15.6" height="3.48" rx="0.8" fill="#383838"/>
</g>
<text x="312.7" y="463.9" font-size="7.6" fill="#222" stroke="#222" stroke-width="0.2" text-anchor="end" textLength="21.5" lengthAdjust="spacingAndGlyphs">Anti-H3</text>
<rect x="324.8" y="348.2" width="40.6" height="1.2" fill="#222"/>
<text x="345" y="345.6" font-size="7.2" fill="#222" stroke="#222" stroke-width="0.15" text-anchor="middle" textLength="15.5" lengthAdjust="spacingAndGlyphs">Mock</text>
<rect x="373" y="348.2" width="46.2" height="1.2" fill="#222"/>
<text x="396.1" y="345.6" font-size="7.2" fill="#222" stroke="#222" stroke-width="0.15" text-anchor="middle" textLength="47.5" lengthAdjust="spacingAndGlyphs">AGGF1-PDGFRB</text>
<rect x="426.2" y="348.2" width="46.1" height="1.2" fill="#222"/>
<text x="428.3" y="345.6" font-size="7.2" fill="#222" stroke="#222" stroke-width="0.15" textLength="50.2" lengthAdjust="spacingAndGlyphs">AGGF1-PDGFRB</text>
<text x="478.8" y="342.2" font-size="3.6" fill="#222">mut</text>
<text x="326.9" y="358.4" font-size="7.2" fill="#222" stroke="#222" stroke-width="0.15" text-anchor="middle">0</text>
<text x="343.2" y="358.4" font-size="7.2" fill="#222" stroke="#222" stroke-width="0.15" text-anchor="middle">10</text>
<text x="360.2" y="358.4" font-size="7.2" fill="#222" stroke="#222" stroke-width="0.15" text-anchor="middle">100</text>
<text x="378.3" y="358.4" font-size="7.2" fill="#222" stroke="#222" stroke-width="0.15" text-anchor="middle">0</text>
<text x="395.5" y="358.4" font-size="7.2" fill="#222" stroke="#222" stroke-width="0.15" text-anchor="middle">10</text>
<text x="412.5" y="358.4" font-size="7.2" fill="#222" stroke="#222" stroke-width="0.15" text-anchor="middle">100</text>
<text x="433" y="358.4" font-size="7.2" fill="#222" stroke="#222" stroke-width="0.15" text-anchor="middle">0</text>
<text x="450" y="358.4" font-size="7.2" fill="#222" stroke="#222" stroke-width="0.15" text-anchor="middle">10</text>
<text x="466.9" y="358.4" font-size="7.2" fill="#222" stroke="#222" stroke-width="0.15" text-anchor="middle">100</text>
<text x="274.5" y="358.4" font-size="7.2" fill="#222" stroke="#222" stroke-width="0.15" textLength="38.5" lengthAdjust="spacingAndGlyphs">CHZ868 (nM)</text>
<defs>
<g id="prot">
 <g fill="none" stroke="#a9dfe3" stroke-width="0.6">
  <path d="M9,27 C5,30 6,35 11,35 C14,37 18,36 19,33"/>
  <path d="M11,24 C7,23 5,27 8,29"/>
  <path d="M15,36 C18,39 24,40 28,38"/>
  <path d="M36,2 C40,0 44,3 42,7"/>
  <path d="M44,6 C49,4 53,9 51,14"/>
 </g>
 <g fill="#62e4ef" stroke="#3fb3bd" stroke-width="0.4">
  <path d="M15.5,8 L33,2.6 L36,7.2 L18,12.8 Z"/>
  <path d="M15,17.5 L41,8 L44,14 L17.5,23.5 Z"/>
  <path d="M12,27.5 L31,21 L34,26.5 L14.5,33 Z"/>
  <path d="M33,0 L40,-1.5 L42,3.5 L35,5 Z"/>
  <path d="M39,14.5 L48,11.5 L49.5,15.5 L40.5,18.2 Z"/>
  <path d="M21,24 L30,20.5 L31,22 L22,25.5 Z"/>
  <path d="M40,37 C44,35.5 50,36 54,38 L53.5,42.5 C49,41 44,41 41,42.5 Z"/>
  <path d="M50,33 L56,31 L57,34 L51,36 Z"/>
 </g>
 <g stroke="#1f5d63" stroke-width="1.3" stroke-dasharray="1.3,1.3" fill="none">
  <path d="M17.5,9.8 L34,4.8"/><path d="M18,20.2 L42,11.5"/><path d="M14.5,30.2 L32,24"/><path d="M17,16.5 L39,9.5" stroke-width="0.9"/>
 </g>
 <g stroke="#ffffff" stroke-width="0.7" fill="none" opacity="0.85">
  <path d="M16.5,13.3 L37,6.6"/><path d="M16.2,22.6 L42.5,13"/><path d="M13.5,31.8 L33,25.3"/>
 </g>
 <g stroke="#7ccfd6" stroke-width="0.5" fill="none">
  <path d="M17,14.5 L38,8.5"/><path d="M16,24.5 L35,18.5"/>
 </g>
 <path d="M34,12 C38,18 36,24 40,28 C42,31 46,30 48,33" fill="none" stroke="#b8c6b8" stroke-width="0.5"/>
 <path d="M28,26 C32,28 34,33 38,34" fill="none" stroke="#c8b8a8" stroke-width="0.5"/>
 <path d="M46,9 C48,14 50,15 54,14" fill="none" stroke="#6a9a9e" stroke-width="0.6"/>
 <g transform="rotate(40 53.5 22.5)">
  <rect x="47.5" y="19" width="12" height="7" rx="3" fill="#55b5be" stroke="#2a6a70" stroke-width="0.5"/>
  <path d="M49.5,19 L49.5,26 M52,19 L52,26 M54.5,19 L54.5,26 M57,19 L57,26" stroke="#1f5258" stroke-width="0.7"/>
 </g>
 <path d="M45,33.5 C41,34 40.5,38 43,39 C44,39.5 45,39 45.5,38.5" fill="none" stroke="#1d3d40" stroke-width="1.3"/>
 <path d="M44,38 C48,36 52,37 55,40" fill="none" stroke="#5aa9b0" stroke-width="0.8"/>
 <path d="M50,26 C53,30 56,31 58,34" fill="none" stroke="#96c7cb" stroke-width="0.5"/>
</g>
<g id="zoomi">
 <path d="M1,3 C8,1.5 11.5,8 9,12.5 C7.5,15 4,15.5 1.5,14.5" fill="none" stroke="#111" stroke-width="1.7"/>
 <path d="M2,5 C6,4.5 8,8 7,11" fill="none" stroke="#999" stroke-width="0.6"/>
 <g fill="none" stroke="#6d6d6d" stroke-width="0.6">
  <path d="M14,0.3 C20,3 28,2 33.7,1 C40,0.3 44,4 46.7,9.4 C52,8.5 58,9 60,12 C61.5,15 63.5,18 66,20.5"/>
  <path d="M47.5,19 C45.5,26 47,34 48.4,41"/>
  <path d="M36,3 C38,6 42,8 40,12 C38,16 42,18 46,17"/>
  <path d="M20,40 C26,34 30,33 36,30"/>
  <path d="M1,44 C6,41 12,42 16,40.5 C18.5,39.5 20,41.5 21.3,45.5"/>
  <path d="M8,45.5 C10,43 12,44 14,45.5"/>
  <path d="M62,26 C58,28 56,31 57,34"/>
 </g>
 <path d="M24.5,7 C28,9 30,14 29,18 C28,20 30,22 31,23" fill="none" stroke="#c9d0bc" stroke-width="0.7"/>
 <path d="M24.5,24.5 L30,22.8" stroke="#b63232" stroke-width="0.9"/>
 <path d="M23,26.5 L28.5,24.6" stroke="#222" stroke-width="1.1"/>
 <path d="M26,27 L31,33" stroke="#c9a0a0" stroke-width="0.5"/>
 <ellipse cx="18.5" cy="36.5" rx="2" ry="1.1" fill="none" stroke="#6a7fc0" stroke-width="0.6" transform="rotate(-35 18.5 36.5)"/>
 <g fill="none" stroke="#a3a9cc" stroke-width="0.6">
  <circle cx="34" cy="13" r="1.6"/><circle cx="41" cy="14" r="1.6"/><circle cx="48" cy="15.5" r="1.6"/><circle cx="55" cy="17" r="1.6"/>
 </g>
 <path d="M27,12 L32.4,13 M35.6,13.2 L39.4,13.8 M42.6,14.3 L46.4,15.2 M49.6,15.8 L53.4,16.6 M56.6,17.4 L60,18.5" stroke="#999" stroke-width="0.5"/>
 <path d="M36.3,31.9 L46.7,21.5" stroke="#111" stroke-width="1.7"/>
 <path d="M49.5,46 C50,39 55.5,34 61.5,35.5 C65.5,37 66.5,41.5 66,46 Z" fill="#e2e2e2" stroke="#777" stroke-width="0.5"/>
 <path d="M55,36 L54,46 M58,35.5 L58.5,46" stroke="#999" stroke-width="0.4"/>
 <path d="M61,40.5 L64.7,45.2 L59.8,45.8 Z" fill="#111"/>
 <path d="M65.7,44.5 C68,40.5 72,39.7 74.4,42" fill="none" stroke="#444" stroke-width="0.7"/>
</g>
<g id="zoomj">
 <path d="M12,9 C6,10 1,7 2,3.5 C3,0 10,-1 14,1.5 C17,3.5 16,7 13.5,8" fill="none" stroke="#333" stroke-width="1.6"/>
 <path d="M11.5,7 C7,7.5 4.5,5.5 5,3.5 C5.5,2 9,1.5 11.5,2.8" fill="none" stroke="#777" stroke-width="0.9"/>
 <path d="M60,3 C64,0.5 70,0.5 74,3" fill="none" stroke="#999" stroke-width="1"/>
 <path d="M34,1 C40,5 48,5 54,2" fill="none" stroke="#aaa" stroke-width="1"/>
 <path d="M54,0.5 C57,3 58,6 57,9" fill="none" stroke="#666" stroke-width="0.6"/>
 <g fill="none" stroke="#5a64a8" stroke-width="0.7">
  <path d="M6,28 L8,27 L10,28 L10,30 L8,31 L6,30 Z"/>
  <path d="M9,31.5 L11,30.5 L13,31.5 L13,33.5 L11,34.5 L9,33.5 Z"/>
  <path d="M19,36.5 L21,35.5 L23,36.5 L23,38.5 L21,39.5 L19,38.5 Z"/>
  <path d="M50,8.5 L52,7.5 L54,8.5 L54,10.5 L52,11.5 L50,10.5 Z"/>
  <path d="M56,10 L58,9 L60,10 L60,12 L58,13 L56,12 Z"/>
  <path d="M27,14.5 L29,13.5 L31,14.5 L31,16.5 L29,17.5 L27,16.5 Z"/>
  <path d="M20,19 L22,18 L24,19 L24,21 L22,22 L20,21 Z"/>
 </g>
 <g fill="none" stroke="#8a8a8a" stroke-width="0.55">
  <path d="M10,28 C14,24 18,22 20,20"/>
  <path d="M24,19 C26,17 27,16 27,15.5"/>
  <path d="M31,15 C36,13 42,11 50,9.5"/>
  <path d="M13,32.5 C16,34 18,36 19,37"/>
  <path d="M23,37 C28,32 32,28 35,22 C37,18 40,16 44,15"/>
  <path d="M60,11 C63,13 66,15 68,17"/>
  <path d="M0,42 C5,39 10,39 14,41 C17,43 19,44 21,45.5"/>
  <path d="M32,20 C33,26 36,30 40,32"/>
  <path d="M40,12 C42,16 44,20 43,26"/>
  <path d="M46,10 C48,14 47,18 45,22"/>
  <path d="M14,22 C18,26 22,28 26,28"/>
 </g>
 <path d="M30,17 L34,26 L37,20 L32,19" fill="none" stroke="#b3402f" stroke-width="0.6"/>
 <path d="M34,26 L37,31" stroke="#b86a5a" stroke-width="0.5"/>
 <path d="M38,20 L42,30" stroke="#9fc0a0" stroke-width="0.5"/>
 <path d="M46,32 C50,28 55,25 60,22.5 L59.3,25.5 C55,28 51,31 47.5,34 Z" fill="#111"/>
 <path d="M43,45.5 C46,38 52,34 58,33 L60,36 C55,37 50,40 48,45.5 Z" fill="#cdcdcd" stroke="#555" stroke-width="0.5"/>
 <path d="M50,40 L54,45.5" stroke="#666" stroke-width="0.6"/>
 <path d="M62,45.5 C62,34 66,24 74,18" fill="none" stroke="#777" stroke-width="1.2"/>
 <path d="M66,45.5 C66,37 69,29 74,25" fill="none" stroke="#aaa" stroke-width="0.8"/>
 <path d="M68,45.5 C69,41 71,38 74,37 L74,45.5 Z" fill="#aaa"/>
</g>
</defs>
<text x="151.7" y="502.3" font-size="6.3" fill="#222" stroke="#222" stroke-width="0.12" text-anchor="middle" textLength="84.1" lengthAdjust="spacingAndGlyphs">PDGFRB (WT) with Dasatinib</text>
<rect x="64.5" y="505" width="75.7" height="46" fill="#fff" stroke="#a2a2a2" stroke-width="0.8"/>
<rect x="161.3" y="505" width="75.7" height="46" fill="#fff" stroke="#a2a2a2" stroke-width="0.8"/>
<svg x="64.5" y="505" width="75.7" height="46" overflow="hidden"><use href="#prot" transform="translate(1,3)"/></svg>
<svg x="161.3" y="505" width="75.7" height="46" overflow="hidden"><use href="#zoomi"/></svg>
<path d="M94.6,522.7 L94.6,542" stroke="#d24b4b" stroke-width="0.7" stroke-dasharray="1.4,1.2" fill="none"/>
<path d="M110,521.2 L161.3,505.3 M107.7,541.2 L161.3,551" stroke="#d24b4b" stroke-width="0.75" stroke-dasharray="2,1.4" fill="none"/>
<text x="151.7" y="558.3" font-size="6.3" fill="#222" stroke="#222" stroke-width="0.12" text-anchor="middle" textLength="91.7" lengthAdjust="spacingAndGlyphs">PDGFRB (C843G) with Dasatinib</text>
<rect x="64.5" y="561" width="75.7" height="46" fill="#fff" stroke="#a2a2a2" stroke-width="0.8"/>
<rect x="161.3" y="561" width="75.7" height="46" fill="#fff" stroke="#a2a2a2" stroke-width="0.8"/>
<svg x="64.5" y="561" width="75.7" height="46" overflow="hidden"><use href="#prot" transform="translate(1,3)"/></svg>
<svg x="161.3" y="561" width="75.7" height="46" overflow="hidden"><use href="#zoomi"/></svg>
<path d="M94.6,578.7 L94.6,598" stroke="#d24b4b" stroke-width="0.7" stroke-dasharray="1.4,1.2" fill="none"/>
<path d="M110,577.2 L161.3,561.3 M107.7,597.2 L161.3,607" stroke="#d24b4b" stroke-width="0.75" stroke-dasharray="2,1.4" fill="none"/>
<text x="391.1" y="502.3" font-size="6.3" fill="#222" stroke="#222" stroke-width="0.12" text-anchor="middle" textLength="80.3" lengthAdjust="spacingAndGlyphs">PDGFRB (WT) with CHZ868</text>
<rect x="304" y="505" width="75.2" height="46" fill="#fff" stroke="#a2a2a2" stroke-width="0.8"/>
<rect x="404" y="505" width="74.4" height="46" fill="#fff" stroke="#a2a2a2" stroke-width="0.8"/>
<svg x="304" y="505" width="75.2" height="46" overflow="hidden"><use href="#prot" transform="translate(1,3)"/></svg>
<svg x="404" y="505" width="74.4" height="46" overflow="hidden"><use href="#zoomj"/></svg>
<path d="M334.1,522.7 L334.1,542" stroke="#d24b4b" stroke-width="0.7" stroke-dasharray="1.4,1.2" fill="none"/>
<path d="M349.5,521.2 L404,505.3 M347.2,541.2 L404,551" stroke="#d24b4b" stroke-width="0.75" stroke-dasharray="2,1.4" fill="none"/>
<text x="391.1" y="559.1" font-size="6.3" fill="#222" stroke="#222" stroke-width="0.12" text-anchor="middle" textLength="88.8" lengthAdjust="spacingAndGlyphs">PDGFRB (C843G) with CHZ868</text>
<rect x="304" y="561.8" width="75.2" height="46" fill="#fff" stroke="#a2a2a2" stroke-width="0.8"/>
<rect x="404" y="561.8" width="74.4" height="46" fill="#fff" stroke="#a2a2a2" stroke-width="0.8"/>
<svg x="304" y="561.8" width="75.2" height="46" overflow="hidden"><use href="#prot" transform="translate(1,3)"/></svg>
<svg x="404" y="561.8" width="74.4" height="46" overflow="hidden"><use href="#zoomj"/></svg>
<path d="M334.1,579.5 L334.1,598.8" stroke="#d24b4b" stroke-width="0.7" stroke-dasharray="1.4,1.2" fill="none"/>
<path d="M349.5,578 L404,562.1 M347.2,598 L404,607.8" stroke="#d24b4b" stroke-width="0.75" stroke-dasharray="2,1.4" fill="none"/>
<rect x="0.75" y="0.75" width="518.5" height="614.5" fill="none" stroke="#000" stroke-width="1.6"/>
</svg></body></html>
